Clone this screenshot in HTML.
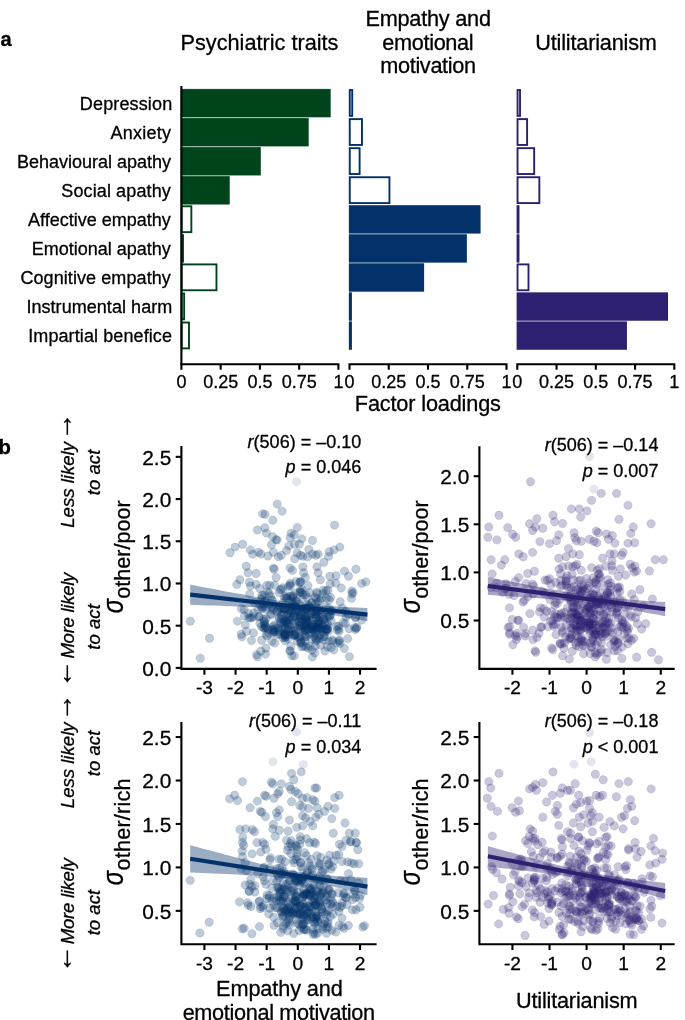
<!DOCTYPE html>
<html lang="en">
<head>
<meta charset="utf-8">
<title>Figure</title>
<style>
html,body{margin:0;padding:0;background:#fff;}
body{width:685px;height:1020px;overflow:hidden;}
svg{display:block;font-family:'Liberation Sans', Arial, Helvetica, sans-serif;fill:#000;}
text{stroke:#000;stroke-width:0.3px;stroke-linejoin:round;}
</style>
</head>
<body>
<svg width="685" height="1020" viewBox="0 0 685 1020">
<rect width="685" height="1020" fill="#fff"/>
<rect x="180.80" y="88.80" width="149.75" height="28.66" fill="#00441b" fill-opacity="0.5"/>
<rect x="180.80" y="89.15" width="149.75" height="27.95" fill="#00441b"/>
<rect x="180.80" y="117.86" width="127.77" height="28.66" fill="#00441b" fill-opacity="0.5"/>
<rect x="180.80" y="118.21" width="127.77" height="27.95" fill="#00441b"/>
<rect x="180.80" y="146.92" width="79.88" height="28.66" fill="#00441b" fill-opacity="0.5"/>
<rect x="180.80" y="147.27" width="79.88" height="27.95" fill="#00441b"/>
<rect x="180.80" y="175.98" width="48.80" height="28.66" fill="#00441b" fill-opacity="0.5"/>
<rect x="180.80" y="176.33" width="48.80" height="27.95" fill="#00441b"/>
<rect x="181.65" y="206.29" width="9.70" height="25.85" fill="#fff" stroke="#00441b" stroke-width="1.9"/>
<rect x="180.80" y="234.10" width="3.11" height="28.66" fill="#00441b" fill-opacity="0.5"/>
<rect x="180.80" y="234.45" width="3.11" height="27.95" fill="#00441b"/>
<rect x="181.65" y="264.41" width="34.82" height="25.85" fill="#fff" stroke="#00441b" stroke-width="1.9"/>
<rect x="181.65" y="293.47" width="2.48" height="25.85" fill="#fff" stroke="#00441b" stroke-width="1.9"/>
<rect x="181.65" y="322.53" width="7.34" height="25.85" fill="#fff" stroke="#00441b" stroke-width="1.9"/>
<path d="M181.40 369.70V364.30H338.40V369.70" fill="none" stroke="#000" stroke-width="2.1"/>
<line x1="220.65" y1="364.30" x2="220.65" y2="369.70" stroke="#000" stroke-width="2.1"/>
<line x1="259.90" y1="364.30" x2="259.90" y2="369.70" stroke="#000" stroke-width="2.1"/>
<line x1="299.15" y1="364.30" x2="299.15" y2="369.70" stroke="#000" stroke-width="2.1"/>
<text x="181.40" y="387.70" font-size="18" text-anchor="middle">0</text>
<text x="220.65" y="387.70" font-size="18" text-anchor="middle">0.25</text>
<text x="259.90" y="387.70" font-size="18" text-anchor="middle">0.5</text>
<text x="299.15" y="387.70" font-size="18" text-anchor="middle">0.75</text>
<text x="338.40" y="387.70" font-size="18" text-anchor="middle">1</text>
<rect x="349.75" y="90.05" width="2.48" height="25.85" fill="#fff" stroke="#03326a" stroke-width="1.9"/>
<rect x="349.75" y="119.11" width="12.21" height="25.85" fill="#fff" stroke="#03326a" stroke-width="1.9"/>
<rect x="349.75" y="148.17" width="9.86" height="25.85" fill="#fff" stroke="#03326a" stroke-width="1.9"/>
<rect x="349.75" y="177.23" width="39.69" height="25.85" fill="#fff" stroke="#03326a" stroke-width="1.9"/>
<rect x="348.90" y="205.04" width="131.54" height="28.66" fill="#03326a" fill-opacity="0.5"/>
<rect x="348.90" y="205.39" width="131.54" height="27.95" fill="#03326a"/>
<rect x="348.90" y="234.10" width="117.88" height="28.66" fill="#03326a" fill-opacity="0.5"/>
<rect x="348.90" y="234.45" width="117.88" height="27.95" fill="#03326a"/>
<rect x="348.90" y="263.16" width="75.17" height="28.66" fill="#03326a" fill-opacity="0.5"/>
<rect x="348.90" y="263.51" width="75.17" height="27.95" fill="#03326a"/>
<rect x="348.90" y="292.22" width="2.96" height="28.66" fill="#03326a" fill-opacity="0.5"/>
<rect x="348.90" y="292.57" width="2.96" height="27.95" fill="#03326a"/>
<rect x="348.90" y="321.28" width="2.96" height="28.66" fill="#03326a" fill-opacity="0.5"/>
<rect x="348.90" y="321.63" width="2.96" height="27.95" fill="#03326a"/>
<path d="M349.50 369.70V364.30H506.50V369.70" fill="none" stroke="#000" stroke-width="2.1"/>
<line x1="388.75" y1="364.30" x2="388.75" y2="369.70" stroke="#000" stroke-width="2.1"/>
<line x1="428.00" y1="364.30" x2="428.00" y2="369.70" stroke="#000" stroke-width="2.1"/>
<line x1="467.25" y1="364.30" x2="467.25" y2="369.70" stroke="#000" stroke-width="2.1"/>
<text x="349.50" y="387.70" font-size="18" text-anchor="middle">0</text>
<text x="388.75" y="387.70" font-size="18" text-anchor="middle">0.25</text>
<text x="428.00" y="387.70" font-size="18" text-anchor="middle">0.5</text>
<text x="467.25" y="387.70" font-size="18" text-anchor="middle">0.75</text>
<text x="506.50" y="387.70" font-size="18" text-anchor="middle">1</text>
<rect x="517.55" y="90.05" width="2.48" height="25.85" fill="#fff" stroke="#2e2070" stroke-width="1.9"/>
<rect x="517.55" y="119.11" width="9.54" height="25.85" fill="#fff" stroke="#2e2070" stroke-width="1.9"/>
<rect x="517.55" y="148.17" width="16.61" height="25.85" fill="#fff" stroke="#2e2070" stroke-width="1.9"/>
<rect x="517.55" y="177.23" width="21.79" height="25.85" fill="#fff" stroke="#2e2070" stroke-width="1.9"/>
<rect x="516.70" y="205.04" width="2.64" height="28.66" fill="#2e2070" fill-opacity="0.5"/>
<rect x="516.70" y="205.39" width="2.64" height="27.95" fill="#2e2070"/>
<rect x="516.70" y="234.10" width="2.64" height="28.66" fill="#2e2070" fill-opacity="0.5"/>
<rect x="516.70" y="234.45" width="2.64" height="27.95" fill="#2e2070"/>
<rect x="517.55" y="264.41" width="10.95" height="25.85" fill="#fff" stroke="#2e2070" stroke-width="1.9"/>
<rect x="516.70" y="292.22" width="151.32" height="28.66" fill="#2e2070" fill-opacity="0.5"/>
<rect x="516.70" y="292.57" width="151.32" height="27.95" fill="#2e2070"/>
<rect x="516.70" y="321.28" width="110.19" height="28.66" fill="#2e2070" fill-opacity="0.5"/>
<rect x="516.70" y="321.63" width="110.19" height="27.95" fill="#2e2070"/>
<path d="M517.30 369.70V364.30H674.30V369.70" fill="none" stroke="#000" stroke-width="2.1"/>
<line x1="556.55" y1="364.30" x2="556.55" y2="369.70" stroke="#000" stroke-width="2.1"/>
<line x1="595.80" y1="364.30" x2="595.80" y2="369.70" stroke="#000" stroke-width="2.1"/>
<line x1="635.05" y1="364.30" x2="635.05" y2="369.70" stroke="#000" stroke-width="2.1"/>
<text x="517.30" y="387.70" font-size="18" text-anchor="middle">0</text>
<text x="556.55" y="387.70" font-size="18" text-anchor="middle">0.25</text>
<text x="595.80" y="387.70" font-size="18" text-anchor="middle">0.5</text>
<text x="635.05" y="387.70" font-size="18" text-anchor="middle">0.75</text>
<text x="674.30" y="387.70" font-size="18" text-anchor="middle">1</text>
<line x1="181.40" y1="85.9" x2="181.40" y2="365.35" stroke="#000" stroke-width="2.1"/>
<text x="172.30" y="110.30" font-size="18" text-anchor="end" letter-spacing="0.14">Depression</text>
<text x="171.20" y="139.27" font-size="18" text-anchor="end" letter-spacing="0.23">Anxiety</text>
<text x="171.00" y="168.24" font-size="18" text-anchor="end">Behavioural apathy</text>
<text x="170.90" y="197.21" font-size="18" text-anchor="end" letter-spacing="0.12">Social apathy</text>
<text x="170.80" y="226.18" font-size="18" text-anchor="end">Affective empathy</text>
<text x="170.80" y="255.15" font-size="18" text-anchor="end">Emotional apathy</text>
<text x="170.90" y="284.12" font-size="18" text-anchor="end" letter-spacing="0.08">Cognitive empathy</text>
<text x="172.30" y="313.09" font-size="18" text-anchor="end" letter-spacing="0.05">Instrumental harm</text>
<text x="172.10" y="342.06" font-size="18" text-anchor="end" letter-spacing="0.1">Impartial benefice</text>
<text x="259.50" y="50.20" font-size="21.7" text-anchor="middle">Psychiatric traits</text>
<text x="428.10" y="26.20" font-size="21.7" text-anchor="middle" letter-spacing="-0.22">Empathy and</text>
<text x="427.80" y="50.20" font-size="21.7" text-anchor="middle" letter-spacing="-0.34">emotional</text>
<text x="428.00" y="73.10" font-size="21.7" text-anchor="middle" letter-spacing="-0.33">motivation</text>
<text x="596.00" y="50.00" font-size="21.7" text-anchor="middle" letter-spacing="-0.19">Utilitarianism</text>
<text x="427.80" y="411.20" font-size="21.7" text-anchor="middle" letter-spacing="-0.15">Factor loadings</text>
<text x="0.40" y="45.60" font-size="20" text-anchor="start" font-weight="bold" stroke-width="0.1">a</text>
<text x="-1.60" y="453.60" font-size="20.3" text-anchor="start" font-weight="bold" stroke-width="0.1">b</text>
<g fill="#03326a" fill-opacity="0.255" stroke="#03326a" stroke-opacity="0.15" stroke-width="0.8">
<circle cx="325.5" cy="629.1" r="4.2"/>
<circle cx="328.1" cy="631.6" r="4.2"/>
<circle cx="318.0" cy="628.9" r="4.2"/>
<circle cx="303.5" cy="630.8" r="4.2"/>
<circle cx="294.9" cy="606.4" r="4.2"/>
<circle cx="301.2" cy="612.2" r="4.2"/>
<circle cx="298.6" cy="621.6" r="4.2"/>
<circle cx="340.1" cy="643.5" r="4.2"/>
<circle cx="241.4" cy="608.8" r="4.2"/>
<circle cx="306.6" cy="624.9" r="4.2"/>
<circle cx="284.1" cy="613.1" r="4.2"/>
<circle cx="320.0" cy="634.8" r="4.2"/>
<circle cx="248.9" cy="617.6" r="4.2"/>
<circle cx="262.0" cy="597.4" r="4.2"/>
<circle cx="270.7" cy="614.1" r="4.2"/>
<circle cx="301.1" cy="606.5" r="4.2"/>
<circle cx="327.6" cy="629.1" r="4.2"/>
<circle cx="315.4" cy="614.3" r="4.2"/>
<circle cx="284.8" cy="634.6" r="4.2"/>
<circle cx="261.3" cy="607.3" r="4.2"/>
<circle cx="307.6" cy="604.8" r="4.2"/>
<circle cx="306.2" cy="608.1" r="4.2"/>
<circle cx="323.8" cy="618.9" r="4.2"/>
<circle cx="323.3" cy="627.4" r="4.2"/>
<circle cx="286.2" cy="633.2" r="4.2"/>
<circle cx="249.4" cy="582.2" r="4.2"/>
<circle cx="314.6" cy="611.7" r="4.2"/>
<circle cx="313.8" cy="630.4" r="4.2"/>
<circle cx="307.4" cy="620.8" r="4.2"/>
<circle cx="301.0" cy="581.6" r="4.2"/>
<circle cx="279.8" cy="634.2" r="4.2"/>
<circle cx="320.7" cy="645.4" r="4.2"/>
<circle cx="296.5" cy="601.0" r="4.2"/>
<circle cx="294.1" cy="635.5" r="4.2"/>
<circle cx="303.2" cy="609.2" r="4.2"/>
<circle cx="268.0" cy="629.1" r="4.2"/>
<circle cx="281.7" cy="629.1" r="4.2"/>
<circle cx="284.3" cy="608.9" r="4.2"/>
<circle cx="287.4" cy="623.9" r="4.2"/>
<circle cx="273.8" cy="608.5" r="4.2"/>
<circle cx="300.2" cy="589.7" r="4.2"/>
<circle cx="345.2" cy="623.5" r="4.2"/>
<circle cx="315.9" cy="610.4" r="4.2"/>
<circle cx="313.2" cy="626.8" r="4.2"/>
<circle cx="325.8" cy="606.9" r="4.2"/>
<circle cx="272.1" cy="606.4" r="4.2"/>
<circle cx="263.6" cy="619.0" r="4.2"/>
<circle cx="300.0" cy="637.1" r="4.2"/>
<circle cx="280.5" cy="622.3" r="4.2"/>
<circle cx="281.6" cy="614.6" r="4.2"/>
<circle cx="303.4" cy="619.6" r="4.2"/>
<circle cx="274.6" cy="632.1" r="4.2"/>
<circle cx="263.6" cy="628.1" r="4.2"/>
<circle cx="311.4" cy="625.5" r="4.2"/>
<circle cx="264.7" cy="595.1" r="4.2"/>
<circle cx="251.8" cy="617.9" r="4.2"/>
<circle cx="323.8" cy="639.7" r="4.2"/>
<circle cx="305.2" cy="631.0" r="4.2"/>
<circle cx="311.6" cy="603.1" r="4.2"/>
<circle cx="260.8" cy="651.2" r="4.2"/>
<circle cx="290.8" cy="628.5" r="4.2"/>
<circle cx="292.6" cy="604.0" r="4.2"/>
<circle cx="263.7" cy="604.2" r="4.2"/>
<circle cx="289.7" cy="619.9" r="4.2"/>
<circle cx="315.8" cy="617.6" r="4.2"/>
<circle cx="291.7" cy="611.3" r="4.2"/>
<circle cx="311.8" cy="602.4" r="4.2"/>
<circle cx="311.1" cy="628.9" r="4.2"/>
<circle cx="237.4" cy="621.1" r="4.2"/>
<circle cx="279.0" cy="631.7" r="4.2"/>
<circle cx="283.9" cy="621.4" r="4.2"/>
<circle cx="297.0" cy="626.5" r="4.2"/>
<circle cx="302.0" cy="625.8" r="4.2"/>
<circle cx="314.5" cy="614.8" r="4.2"/>
<circle cx="302.4" cy="628.7" r="4.2"/>
<circle cx="288.3" cy="630.3" r="4.2"/>
<circle cx="285.5" cy="620.7" r="4.2"/>
<circle cx="300.9" cy="618.6" r="4.2"/>
<circle cx="271.6" cy="600.0" r="4.2"/>
<circle cx="291.1" cy="607.6" r="4.2"/>
<circle cx="302.3" cy="589.9" r="4.2"/>
<circle cx="317.5" cy="615.5" r="4.2"/>
<circle cx="315.1" cy="597.1" r="4.2"/>
<circle cx="306.4" cy="610.2" r="4.2"/>
<circle cx="293.0" cy="595.6" r="4.2"/>
<circle cx="304.5" cy="635.4" r="4.2"/>
<circle cx="307.5" cy="608.4" r="4.2"/>
<circle cx="355.3" cy="617.7" r="4.2"/>
<circle cx="295.1" cy="606.5" r="4.2"/>
<circle cx="305.3" cy="617.0" r="4.2"/>
<circle cx="300.0" cy="626.2" r="4.2"/>
<circle cx="290.7" cy="646.3" r="4.2"/>
<circle cx="289.3" cy="613.9" r="4.2"/>
<circle cx="279.2" cy="618.7" r="4.2"/>
<circle cx="343.2" cy="622.6" r="4.2"/>
<circle cx="287.6" cy="613.4" r="4.2"/>
<circle cx="267.6" cy="591.6" r="4.2"/>
<circle cx="283.9" cy="636.1" r="4.2"/>
<circle cx="300.5" cy="629.1" r="4.2"/>
<circle cx="319.8" cy="621.3" r="4.2"/>
<circle cx="330.2" cy="583.9" r="4.2"/>
<circle cx="265.9" cy="627.5" r="4.2"/>
<circle cx="294.6" cy="624.3" r="4.2"/>
<circle cx="302.3" cy="598.8" r="4.2"/>
<circle cx="318.0" cy="623.6" r="4.2"/>
<circle cx="326.2" cy="630.8" r="4.2"/>
<circle cx="289.6" cy="634.6" r="4.2"/>
<circle cx="317.7" cy="608.7" r="4.2"/>
<circle cx="320.1" cy="610.6" r="4.2"/>
<circle cx="301.2" cy="642.7" r="4.2"/>
<circle cx="282.3" cy="627.0" r="4.2"/>
<circle cx="365.8" cy="581.9" r="4.2"/>
<circle cx="341.3" cy="588.0" r="4.2"/>
<circle cx="316.0" cy="641.1" r="4.2"/>
<circle cx="312.2" cy="624.9" r="4.2"/>
<circle cx="300.0" cy="638.8" r="4.2"/>
<circle cx="294.3" cy="616.8" r="4.2"/>
<circle cx="318.0" cy="601.7" r="4.2"/>
<circle cx="323.9" cy="619.6" r="4.2"/>
<circle cx="307.3" cy="597.4" r="4.2"/>
<circle cx="279.7" cy="609.5" r="4.2"/>
<circle cx="361.6" cy="583.6" r="4.2"/>
<circle cx="319.0" cy="629.8" r="4.2"/>
<circle cx="262.9" cy="607.1" r="4.2"/>
<circle cx="332.6" cy="640.0" r="4.2"/>
<circle cx="328.0" cy="625.4" r="4.2"/>
<circle cx="301.8" cy="614.7" r="4.2"/>
<circle cx="308.3" cy="616.3" r="4.2"/>
<circle cx="281.0" cy="623.4" r="4.2"/>
<circle cx="345.8" cy="611.4" r="4.2"/>
<circle cx="306.0" cy="618.8" r="4.2"/>
<circle cx="318.2" cy="622.9" r="4.2"/>
<circle cx="265.0" cy="601.2" r="4.2"/>
<circle cx="333.8" cy="649.9" r="4.2"/>
<circle cx="309.1" cy="615.0" r="4.2"/>
<circle cx="291.3" cy="619.8" r="4.2"/>
<circle cx="289.7" cy="617.2" r="4.2"/>
<circle cx="356.9" cy="627.2" r="4.2"/>
<circle cx="354.8" cy="627.5" r="4.2"/>
<circle cx="322.2" cy="611.2" r="4.2"/>
<circle cx="300.7" cy="613.8" r="4.2"/>
<circle cx="304.5" cy="628.7" r="4.2"/>
<circle cx="302.8" cy="594.6" r="4.2"/>
<circle cx="319.3" cy="625.2" r="4.2"/>
<circle cx="313.0" cy="611.1" r="4.2"/>
<circle cx="311.7" cy="639.0" r="4.2"/>
<circle cx="331.0" cy="647.5" r="4.2"/>
<circle cx="274.6" cy="585.3" r="4.2"/>
<circle cx="321.9" cy="628.4" r="4.2"/>
<circle cx="288.2" cy="629.4" r="4.2"/>
<circle cx="286.2" cy="622.9" r="4.2"/>
<circle cx="257.5" cy="656.7" r="4.2"/>
<circle cx="284.7" cy="598.4" r="4.2"/>
<circle cx="272.5" cy="629.7" r="4.2"/>
<circle cx="308.0" cy="585.6" r="4.2"/>
<circle cx="351.9" cy="590.9" r="4.2"/>
<circle cx="295.0" cy="634.8" r="4.2"/>
<circle cx="323.0" cy="593.7" r="4.2"/>
<circle cx="301.7" cy="646.7" r="4.2"/>
<circle cx="293.2" cy="630.6" r="4.2"/>
<circle cx="261.4" cy="626.5" r="4.2"/>
<circle cx="337.1" cy="642.9" r="4.2"/>
<circle cx="330.5" cy="597.3" r="4.2"/>
<circle cx="297.3" cy="641.2" r="4.2"/>
<circle cx="266.2" cy="618.7" r="4.2"/>
<circle cx="265.0" cy="601.1" r="4.2"/>
<circle cx="277.6" cy="634.6" r="4.2"/>
<circle cx="316.6" cy="627.4" r="4.2"/>
<circle cx="307.1" cy="609.3" r="4.2"/>
<circle cx="332.4" cy="641.3" r="4.2"/>
<circle cx="305.4" cy="622.1" r="4.2"/>
<circle cx="355.4" cy="629.5" r="4.2"/>
<circle cx="312.4" cy="657.1" r="4.2"/>
<circle cx="327.3" cy="623.7" r="4.2"/>
<circle cx="309.6" cy="634.2" r="4.2"/>
<circle cx="329.7" cy="615.7" r="4.2"/>
<circle cx="326.4" cy="598.2" r="4.2"/>
<circle cx="285.0" cy="621.5" r="4.2"/>
<circle cx="288.9" cy="609.8" r="4.2"/>
<circle cx="254.0" cy="602.5" r="4.2"/>
<circle cx="339.1" cy="631.4" r="4.2"/>
<circle cx="273.5" cy="630.5" r="4.2"/>
<circle cx="312.0" cy="627.2" r="4.2"/>
<circle cx="299.3" cy="611.6" r="4.2"/>
<circle cx="294.3" cy="655.9" r="4.2"/>
<circle cx="300.3" cy="582.0" r="4.2"/>
<circle cx="327.5" cy="616.4" r="4.2"/>
<circle cx="322.3" cy="631.0" r="4.2"/>
<circle cx="316.2" cy="618.0" r="4.2"/>
<circle cx="273.8" cy="626.2" r="4.2"/>
<circle cx="349.4" cy="656.6" r="4.2"/>
<circle cx="289.8" cy="651.0" r="4.2"/>
<circle cx="286.0" cy="636.5" r="4.2"/>
<circle cx="285.2" cy="608.9" r="4.2"/>
<circle cx="304.3" cy="628.1" r="4.2"/>
<circle cx="300.9" cy="641.2" r="4.2"/>
<circle cx="282.9" cy="637.7" r="4.2"/>
<circle cx="281.4" cy="589.1" r="4.2"/>
<circle cx="296.1" cy="611.1" r="4.2"/>
<circle cx="285.2" cy="637.7" r="4.2"/>
<circle cx="290.3" cy="583.1" r="4.2"/>
<circle cx="356.3" cy="628.3" r="4.2"/>
<circle cx="308.9" cy="606.8" r="4.2"/>
<circle cx="273.0" cy="629.3" r="4.2"/>
<circle cx="316.6" cy="592.1" r="4.2"/>
<circle cx="307.9" cy="648.1" r="4.2"/>
<circle cx="285.2" cy="634.3" r="4.2"/>
<circle cx="266.9" cy="636.0" r="4.2"/>
<circle cx="330.3" cy="615.0" r="4.2"/>
<circle cx="290.6" cy="595.9" r="4.2"/>
<circle cx="282.9" cy="603.3" r="4.2"/>
<circle cx="283.5" cy="623.6" r="4.2"/>
<circle cx="265.9" cy="648.2" r="4.2"/>
<circle cx="308.5" cy="605.5" r="4.2"/>
<circle cx="264.3" cy="621.0" r="4.2"/>
<circle cx="316.5" cy="639.9" r="4.2"/>
<circle cx="288.0" cy="638.5" r="4.2"/>
<circle cx="272.3" cy="600.3" r="4.2"/>
<circle cx="319.7" cy="638.6" r="4.2"/>
<circle cx="299.2" cy="625.1" r="4.2"/>
<circle cx="264.3" cy="624.6" r="4.2"/>
<circle cx="265.7" cy="627.3" r="4.2"/>
<circle cx="294.5" cy="602.4" r="4.2"/>
<circle cx="266.4" cy="634.4" r="4.2"/>
<circle cx="336.7" cy="626.5" r="4.2"/>
<circle cx="288.3" cy="586.5" r="4.2"/>
<circle cx="337.2" cy="630.1" r="4.2"/>
<circle cx="288.1" cy="622.3" r="4.2"/>
<circle cx="304.2" cy="623.9" r="4.2"/>
<circle cx="286.5" cy="621.4" r="4.2"/>
<circle cx="273.9" cy="631.6" r="4.2"/>
<circle cx="351.4" cy="598.4" r="4.2"/>
<circle cx="328.5" cy="640.9" r="4.2"/>
<circle cx="253.7" cy="613.0" r="4.2"/>
<circle cx="346.0" cy="616.9" r="4.2"/>
<circle cx="279.0" cy="592.6" r="4.2"/>
<circle cx="331.1" cy="620.8" r="4.2"/>
<circle cx="262.2" cy="608.7" r="4.2"/>
<circle cx="282.9" cy="587.7" r="4.2"/>
<circle cx="295.8" cy="600.7" r="4.2"/>
<circle cx="327.4" cy="629.6" r="4.2"/>
<circle cx="285.1" cy="628.6" r="4.2"/>
<circle cx="281.3" cy="618.9" r="4.2"/>
<circle cx="309.5" cy="620.0" r="4.2"/>
<circle cx="271.0" cy="614.9" r="4.2"/>
<circle cx="293.8" cy="616.1" r="4.2"/>
<circle cx="280.3" cy="607.6" r="4.2"/>
<circle cx="298.4" cy="615.8" r="4.2"/>
<circle cx="306.7" cy="623.0" r="4.2"/>
<circle cx="259.9" cy="623.3" r="4.2"/>
<circle cx="286.8" cy="615.3" r="4.2"/>
<circle cx="261.7" cy="640.3" r="4.2"/>
<circle cx="315.8" cy="632.9" r="4.2"/>
<circle cx="335.7" cy="583.1" r="4.2"/>
<circle cx="266.1" cy="609.2" r="4.2"/>
<circle cx="327.2" cy="646.8" r="4.2"/>
<circle cx="308.9" cy="622.2" r="4.2"/>
<circle cx="348.2" cy="614.7" r="4.2"/>
<circle cx="314.7" cy="637.0" r="4.2"/>
<circle cx="287.6" cy="629.4" r="4.2"/>
<circle cx="316.0" cy="603.4" r="4.2"/>
<circle cx="303.4" cy="646.2" r="4.2"/>
<circle cx="259.7" cy="588.5" r="4.2"/>
<circle cx="307.0" cy="621.4" r="4.2"/>
<circle cx="274.2" cy="624.9" r="4.2"/>
<circle cx="258.0" cy="609.6" r="4.2"/>
<circle cx="300.5" cy="617.9" r="4.2"/>
<circle cx="339.3" cy="640.2" r="4.2"/>
<circle cx="281.6" cy="608.5" r="4.2"/>
<circle cx="338.8" cy="629.0" r="4.2"/>
<circle cx="266.8" cy="585.5" r="4.2"/>
<circle cx="272.8" cy="632.6" r="4.2"/>
<circle cx="244.1" cy="609.8" r="4.2"/>
<circle cx="297.7" cy="636.8" r="4.2"/>
<circle cx="355.5" cy="617.3" r="4.2"/>
<circle cx="295.7" cy="634.3" r="4.2"/>
<circle cx="299.6" cy="582.4" r="4.2"/>
<circle cx="304.3" cy="608.5" r="4.2"/>
<circle cx="259.5" cy="604.4" r="4.2"/>
<circle cx="300.6" cy="643.1" r="4.2"/>
<circle cx="277.7" cy="610.4" r="4.2"/>
<circle cx="286.7" cy="595.7" r="4.2"/>
<circle cx="253.4" cy="616.6" r="4.2"/>
<circle cx="324.6" cy="632.2" r="4.2"/>
<circle cx="318.7" cy="637.7" r="4.2"/>
<circle cx="310.4" cy="607.9" r="4.2"/>
<circle cx="316.2" cy="623.9" r="4.2"/>
<circle cx="286.1" cy="634.7" r="4.2"/>
<circle cx="275.2" cy="628.1" r="4.2"/>
<circle cx="326.0" cy="590.8" r="4.2"/>
<circle cx="273.2" cy="610.2" r="4.2"/>
<circle cx="264.4" cy="628.2" r="4.2"/>
<circle cx="269.0" cy="633.2" r="4.2"/>
<circle cx="320.1" cy="628.3" r="4.2"/>
<circle cx="262.0" cy="595.3" r="4.2"/>
<circle cx="327.3" cy="628.2" r="4.2"/>
<circle cx="329.6" cy="616.7" r="4.2"/>
<circle cx="317.9" cy="612.4" r="4.2"/>
<circle cx="288.9" cy="609.6" r="4.2"/>
<circle cx="297.6" cy="609.0" r="4.2"/>
<circle cx="306.0" cy="636.6" r="4.2"/>
<circle cx="353.1" cy="592.5" r="4.2"/>
<circle cx="321.5" cy="598.2" r="4.2"/>
<circle cx="248.3" cy="613.5" r="4.2"/>
<circle cx="309.7" cy="592.7" r="4.2"/>
<circle cx="296.6" cy="618.0" r="4.2"/>
<circle cx="292.0" cy="601.7" r="4.2"/>
<circle cx="246.5" cy="631.3" r="4.2"/>
<circle cx="328.8" cy="607.6" r="4.2"/>
<circle cx="361.7" cy="620.0" r="4.2"/>
<circle cx="315.3" cy="645.9" r="4.2"/>
<circle cx="294.6" cy="613.1" r="4.2"/>
<circle cx="312.0" cy="632.4" r="4.2"/>
<circle cx="329.3" cy="599.6" r="4.2"/>
<circle cx="269.3" cy="593.5" r="4.2"/>
<circle cx="318.2" cy="626.8" r="4.2"/>
<circle cx="253.4" cy="632.9" r="4.2"/>
<circle cx="305.9" cy="646.5" r="4.2"/>
<circle cx="315.9" cy="638.5" r="4.2"/>
<circle cx="285.1" cy="640.6" r="4.2"/>
<circle cx="296.1" cy="581.5" r="4.2"/>
<circle cx="320.0" cy="600.8" r="4.2"/>
<circle cx="349.0" cy="628.8" r="4.2"/>
<circle cx="283.7" cy="608.7" r="4.2"/>
<circle cx="342.4" cy="608.2" r="4.2"/>
<circle cx="271.2" cy="607.2" r="4.2"/>
<circle cx="292.6" cy="596.8" r="4.2"/>
<circle cx="296.6" cy="608.7" r="4.2"/>
<circle cx="282.4" cy="608.2" r="4.2"/>
<circle cx="322.6" cy="616.5" r="4.2"/>
<circle cx="271.9" cy="641.3" r="4.2"/>
<circle cx="294.9" cy="626.4" r="4.2"/>
<circle cx="327.8" cy="612.1" r="4.2"/>
<circle cx="293.4" cy="597.9" r="4.2"/>
<circle cx="304.6" cy="637.4" r="4.2"/>
<circle cx="311.8" cy="633.4" r="4.2"/>
<circle cx="302.5" cy="609.4" r="4.2"/>
<circle cx="305.3" cy="630.2" r="4.2"/>
<circle cx="300.4" cy="592.0" r="4.2"/>
<circle cx="283.9" cy="632.8" r="4.2"/>
<circle cx="326.6" cy="628.9" r="4.2"/>
<circle cx="294.9" cy="593.1" r="4.2"/>
<circle cx="308.2" cy="629.4" r="4.2"/>
<circle cx="306.3" cy="626.4" r="4.2"/>
<circle cx="278.8" cy="617.4" r="4.2"/>
<circle cx="245.2" cy="624.9" r="4.2"/>
<circle cx="290.0" cy="584.9" r="4.2"/>
<circle cx="316.3" cy="598.5" r="4.2"/>
<circle cx="339.2" cy="641.2" r="4.2"/>
<circle cx="274.7" cy="643.0" r="4.2"/>
<circle cx="285.3" cy="635.2" r="4.2"/>
<circle cx="288.6" cy="619.8" r="4.2"/>
<circle cx="265.6" cy="654.1" r="4.2"/>
<circle cx="290.5" cy="611.6" r="4.2"/>
<circle cx="306.2" cy="619.5" r="4.2"/>
<circle cx="347.7" cy="638.6" r="4.2"/>
<circle cx="249.7" cy="594.1" r="4.2"/>
<circle cx="289.6" cy="600.8" r="4.2"/>
<circle cx="256.1" cy="584.4" r="4.2"/>
<circle cx="290.6" cy="606.7" r="4.2"/>
<circle cx="293.1" cy="608.6" r="4.2"/>
<circle cx="318.7" cy="623.2" r="4.2"/>
<circle cx="290.6" cy="631.3" r="4.2"/>
<circle cx="264.6" cy="622.5" r="4.2"/>
<circle cx="317.0" cy="630.7" r="4.2"/>
<circle cx="316.1" cy="607.1" r="4.2"/>
<circle cx="312.6" cy="628.9" r="4.2"/>
<circle cx="352.0" cy="594.0" r="4.2"/>
<circle cx="280.4" cy="589.7" r="4.2"/>
<circle cx="317.1" cy="593.8" r="4.2"/>
<circle cx="269.7" cy="585.1" r="4.2"/>
<circle cx="306.8" cy="616.4" r="4.2"/>
<circle cx="306.9" cy="617.0" r="4.2"/>
<circle cx="278.2" cy="628.0" r="4.2"/>
<circle cx="289.0" cy="624.2" r="4.2"/>
<circle cx="314.8" cy="652.8" r="4.2"/>
<circle cx="323.4" cy="619.5" r="4.2"/>
<circle cx="265.5" cy="625.4" r="4.2"/>
<circle cx="294.6" cy="635.5" r="4.2"/>
<circle cx="321.9" cy="624.7" r="4.2"/>
<circle cx="300.0" cy="617.3" r="4.2"/>
<circle cx="250.0" cy="617.9" r="4.2"/>
<circle cx="322.2" cy="614.3" r="4.2"/>
<circle cx="284.8" cy="596.5" r="4.2"/>
<circle cx="323.6" cy="636.5" r="4.2"/>
<circle cx="305.7" cy="594.6" r="4.2"/>
<circle cx="324.5" cy="636.8" r="4.2"/>
<circle cx="325.0" cy="651.1" r="4.2"/>
<circle cx="324.5" cy="622.7" r="4.2"/>
<circle cx="313.2" cy="629.2" r="4.2"/>
<circle cx="290.4" cy="650.9" r="4.2"/>
<circle cx="299.3" cy="604.3" r="4.2"/>
<circle cx="344.3" cy="648.5" r="4.2"/>
<circle cx="256.5" cy="654.8" r="4.2"/>
<circle cx="301.2" cy="622.1" r="4.2"/>
<circle cx="313.1" cy="627.3" r="4.2"/>
<circle cx="259.3" cy="616.6" r="4.2"/>
<circle cx="316.3" cy="617.7" r="4.2"/>
<circle cx="331.9" cy="610.8" r="4.2"/>
<circle cx="261.4" cy="599.4" r="4.2"/>
<circle cx="338.5" cy="626.1" r="4.2"/>
<circle cx="307.4" cy="607.4" r="4.2"/>
<circle cx="295.7" cy="633.5" r="4.2"/>
<circle cx="331.0" cy="611.0" r="4.2"/>
<circle cx="276.8" cy="611.6" r="4.2"/>
<circle cx="327.9" cy="590.2" r="4.2"/>
<circle cx="311.2" cy="613.4" r="4.2"/>
<circle cx="304.7" cy="640.7" r="4.2"/>
<circle cx="316.1" cy="614.0" r="4.2"/>
<circle cx="318.1" cy="627.5" r="4.2"/>
<circle cx="279.3" cy="630.4" r="4.2"/>
<circle cx="293.5" cy="634.1" r="4.2"/>
<circle cx="301.6" cy="592.7" r="4.2"/>
<circle cx="241.9" cy="636.8" r="4.2"/>
<circle cx="293.8" cy="616.0" r="4.2"/>
<circle cx="309.4" cy="646.1" r="4.2"/>
<circle cx="251.5" cy="640.6" r="4.2"/>
<circle cx="270.5" cy="596.3" r="4.2"/>
<circle cx="299.8" cy="592.1" r="4.2"/>
<circle cx="291.8" cy="655.7" r="4.2"/>
<circle cx="310.9" cy="624.1" r="4.2"/>
<circle cx="241.2" cy="634.3" r="4.2"/>
<circle cx="281.6" cy="615.4" r="4.2"/>
<circle cx="287.0" cy="598.0" r="4.2"/>
<circle cx="340.2" cy="601.8" r="4.2"/>
<circle cx="299.3" cy="621.8" r="4.2"/>
<circle cx="307.6" cy="628.7" r="4.2"/>
<circle cx="286.8" cy="598.3" r="4.2"/>
<circle cx="318.4" cy="620.8" r="4.2"/>
<circle cx="312.1" cy="650.0" r="4.2"/>
<circle cx="323.3" cy="590.1" r="4.2"/>
<circle cx="290.3" cy="586.1" r="4.2"/>
<circle cx="258.7" cy="616.8" r="4.2"/>
<circle cx="265.8" cy="607.1" r="4.2"/>
<circle cx="244.5" cy="616.0" r="4.2"/>
<circle cx="277.2" cy="504.1" r="4.2"/>
<circle cx="282.1" cy="511.1" r="4.2"/>
<circle cx="262.7" cy="513.9" r="4.2"/>
<circle cx="265.1" cy="514.4" r="4.2"/>
<circle cx="272.8" cy="520.2" r="4.2"/>
<circle cx="334.5" cy="525.1" r="4.2"/>
<circle cx="257.4" cy="530.0" r="4.2"/>
<circle cx="264.8" cy="527.7" r="4.2"/>
<circle cx="266.3" cy="533.1" r="4.2"/>
<circle cx="297.3" cy="527.5" r="4.2"/>
<circle cx="291.2" cy="533.1" r="4.2"/>
<circle cx="294.3" cy="534.9" r="4.2"/>
<circle cx="272.6" cy="536.6" r="4.2"/>
<circle cx="276.1" cy="539.6" r="4.2"/>
<circle cx="277.2" cy="540.1" r="4.2"/>
<circle cx="271.4" cy="544.7" r="4.2"/>
<circle cx="290.1" cy="537.7" r="4.2"/>
<circle cx="294.7" cy="544.3" r="4.2"/>
<circle cx="299.4" cy="544.3" r="4.2"/>
<circle cx="301.8" cy="538.9" r="4.2"/>
<circle cx="288.9" cy="545.9" r="4.2"/>
<circle cx="312.5" cy="540.5" r="4.2"/>
<circle cx="242.7" cy="544.3" r="4.2"/>
<circle cx="235.2" cy="547.1" r="4.2"/>
<circle cx="230.0" cy="552.7" r="4.2"/>
<circle cx="250.4" cy="549.9" r="4.2"/>
<circle cx="252.7" cy="554.1" r="4.2"/>
<circle cx="258.5" cy="552.2" r="4.2"/>
<circle cx="260.9" cy="554.1" r="4.2"/>
<circle cx="267.9" cy="556.0" r="4.2"/>
<circle cx="273.3" cy="552.2" r="4.2"/>
<circle cx="278.4" cy="556.9" r="4.2"/>
<circle cx="281.2" cy="555.3" r="4.2"/>
<circle cx="286.6" cy="550.6" r="4.2"/>
<circle cx="297.1" cy="552.9" r="4.2"/>
<circle cx="300.6" cy="555.3" r="4.2"/>
<circle cx="302.9" cy="556.4" r="4.2"/>
<circle cx="294.7" cy="558.8" r="4.2"/>
<circle cx="307.6" cy="556.9" r="4.2"/>
<circle cx="308.8" cy="549.4" r="4.2"/>
<circle cx="312.3" cy="554.1" r="4.2"/>
<circle cx="315.8" cy="555.3" r="4.2"/>
<circle cx="318.1" cy="554.1" r="4.2"/>
<circle cx="339.8" cy="547.1" r="4.2"/>
<circle cx="334.0" cy="549.9" r="4.2"/>
<circle cx="329.3" cy="551.8" r="4.2"/>
<circle cx="328.6" cy="556.4" r="4.2"/>
<circle cx="323.9" cy="562.3" r="4.2"/>
<circle cx="246.2" cy="566.2" r="4.2"/>
<circle cx="248.0" cy="572.8" r="4.2"/>
<circle cx="256.2" cy="573.5" r="4.2"/>
<circle cx="239.9" cy="579.8" r="4.2"/>
<circle cx="236.8" cy="584.5" r="4.2"/>
<circle cx="250.4" cy="586.1" r="4.2"/>
<circle cx="355.9" cy="569.3" r="4.2"/>
<circle cx="344.5" cy="571.1" r="4.2"/>
<circle cx="348.5" cy="576.3" r="4.2"/>
<circle cx="336.1" cy="575.8" r="4.2"/>
<circle cx="329.8" cy="576.3" r="4.2"/>
<circle cx="273.3" cy="568.1" r="4.2"/>
<circle cx="274.2" cy="569.3" r="4.2"/>
<circle cx="276.1" cy="577.5" r="4.2"/>
<circle cx="290.1" cy="568.1" r="4.2"/>
<circle cx="292.4" cy="570.4" r="4.2"/>
<circle cx="302.9" cy="566.9" r="4.2"/>
<circle cx="303.6" cy="572.8" r="4.2"/>
<circle cx="305.3" cy="577.5" r="4.2"/>
<circle cx="316.9" cy="566.9" r="4.2"/>
<circle cx="318.1" cy="572.8" r="4.2"/>
<circle cx="320.4" cy="579.8" r="4.2"/>
<circle cx="190.3" cy="621.2" r="4.2"/>
<circle cx="209.5" cy="638.2" r="4.2"/>
<circle cx="200.3" cy="658.2" r="4.2"/>
</g>
<g fill="#03326a" fill-opacity="0.12">
<circle cx="296.6" cy="481.7" r="4.45"/>
</g>
<path d="M190.2 584.6 L196.1 585.7 L202.0 586.9 L207.9 588.0 L213.8 589.1 L219.7 590.2 L225.6 591.4 L231.5 592.5 L237.5 593.5 L243.4 594.6 L249.3 595.7 L255.2 596.7 L261.1 597.8 L267.0 598.8 L272.9 599.7 L278.8 600.7 L284.7 601.5 L290.6 602.4 L296.5 603.1 L302.4 603.8 L308.3 604.4 L314.2 604.9 L320.1 605.4 L326.1 605.8 L332.0 606.2 L337.9 606.6 L343.8 606.9 L349.7 607.2 L355.6 607.4 L361.5 607.7 L367.4 607.9 L367.4 621.3 L361.5 620.2 L355.6 619.1 L349.7 618.1 L343.8 617.0 L337.9 616.0 L332.0 615.0 L326.1 614.1 L320.1 613.2 L314.2 612.3 L308.3 611.5 L302.4 610.8 L296.5 610.2 L290.6 609.6 L284.7 609.1 L278.8 608.6 L272.9 608.2 L267.0 607.9 L261.1 607.5 L255.2 607.2 L249.3 607.0 L243.4 606.7 L237.5 606.5 L231.5 606.2 L225.6 606.0 L219.7 605.8 L213.8 605.6 L207.9 605.4 L202.0 605.2 L196.1 605.0 L190.2 604.8Z" fill="#03326a" fill-opacity="0.4"/>
<line x1="190.2" y1="594.7" x2="367.4" y2="614.6" stroke="#03326a" stroke-width="4.2"/>
<path d="M181.40 446.00V668.90H376.60" fill="none" stroke="#000" stroke-width="2.1"/>
<line x1="204.41" y1="668.90" x2="204.41" y2="674.70" stroke="#000" stroke-width="2.1"/>
<text x="204.41" y="693.80" font-size="19.2" text-anchor="middle">-3</text>
<line x1="235.54" y1="668.90" x2="235.54" y2="674.70" stroke="#000" stroke-width="2.1"/>
<text x="235.54" y="693.80" font-size="19.2" text-anchor="middle">-2</text>
<line x1="266.67" y1="668.90" x2="266.67" y2="674.70" stroke="#000" stroke-width="2.1"/>
<text x="266.67" y="693.80" font-size="19.2" text-anchor="middle">-1</text>
<line x1="297.80" y1="668.90" x2="297.80" y2="674.70" stroke="#000" stroke-width="2.1"/>
<text x="297.80" y="693.80" font-size="19.2" text-anchor="middle">0</text>
<line x1="328.93" y1="668.90" x2="328.93" y2="674.70" stroke="#000" stroke-width="2.1"/>
<text x="328.93" y="693.80" font-size="19.2" text-anchor="middle">1</text>
<line x1="360.06" y1="668.90" x2="360.06" y2="674.70" stroke="#000" stroke-width="2.1"/>
<text x="360.06" y="693.80" font-size="19.2" text-anchor="middle">2</text>
<line x1="181.40" y1="456.85" x2="175.70" y2="456.85" stroke="#000" stroke-width="2.1"/>
<text x="171.30" y="464.75" font-size="20.9" text-anchor="end">2.5</text>
<line x1="181.40" y1="499.06" x2="175.70" y2="499.06" stroke="#000" stroke-width="2.1"/>
<text x="171.30" y="506.96" font-size="20.9" text-anchor="end">2.0</text>
<line x1="181.40" y1="541.27" x2="175.70" y2="541.27" stroke="#000" stroke-width="2.1"/>
<text x="171.30" y="549.17" font-size="20.9" text-anchor="end">1.5</text>
<line x1="181.40" y1="583.48" x2="175.70" y2="583.48" stroke="#000" stroke-width="2.1"/>
<text x="171.30" y="591.38" font-size="20.9" text-anchor="end">1.0</text>
<line x1="181.40" y1="625.69" x2="175.70" y2="625.69" stroke="#000" stroke-width="2.1"/>
<text x="171.30" y="633.59" font-size="20.9" text-anchor="end">0.5</text>
<line x1="181.40" y1="667.90" x2="175.70" y2="667.90" stroke="#000" stroke-width="2.1"/>
<text x="171.30" y="675.80" font-size="20.9" text-anchor="end">0.0</text>
<text x="361.20" y="448.00" font-size="18" text-anchor="end"><tspan font-style="italic">r</tspan>(506) = –0.10</text>
<text x="361.20" y="473.20" font-size="18" text-anchor="end"><tspan font-style="italic">p</tspan> = 0.046</text>
<text transform="translate(122.50 613.20) rotate(-90) scale(0.8 1)" x="0" y="0" font-size="29.5" font-style="italic" stroke-width="1.0">σ</text>
<text x="130.50" y="598.70" font-size="21.6" text-anchor="start" transform="rotate(-90 130.50 598.70)">other/poor</text>
<g fill="#2e2070" fill-opacity="0.255" stroke="#2e2070" stroke-opacity="0.15" stroke-width="0.8">
<circle cx="579.0" cy="602.2" r="4.2"/>
<circle cx="627.8" cy="643.8" r="4.2"/>
<circle cx="606.2" cy="623.7" r="4.2"/>
<circle cx="628.9" cy="606.6" r="4.2"/>
<circle cx="573.4" cy="622.9" r="4.2"/>
<circle cx="607.3" cy="592.5" r="4.2"/>
<circle cx="571.3" cy="630.4" r="4.2"/>
<circle cx="596.9" cy="625.1" r="4.2"/>
<circle cx="606.4" cy="659.3" r="4.2"/>
<circle cx="592.7" cy="637.9" r="4.2"/>
<circle cx="590.5" cy="620.8" r="4.2"/>
<circle cx="608.2" cy="584.5" r="4.2"/>
<circle cx="595.1" cy="652.7" r="4.2"/>
<circle cx="526.0" cy="583.6" r="4.2"/>
<circle cx="585.1" cy="641.8" r="4.2"/>
<circle cx="613.7" cy="639.8" r="4.2"/>
<circle cx="593.2" cy="640.7" r="4.2"/>
<circle cx="566.0" cy="580.9" r="4.2"/>
<circle cx="585.9" cy="610.1" r="4.2"/>
<circle cx="603.6" cy="585.8" r="4.2"/>
<circle cx="538.9" cy="633.3" r="4.2"/>
<circle cx="621.7" cy="619.9" r="4.2"/>
<circle cx="600.0" cy="615.0" r="4.2"/>
<circle cx="535.7" cy="652.2" r="4.2"/>
<circle cx="598.7" cy="608.8" r="4.2"/>
<circle cx="624.6" cy="613.8" r="4.2"/>
<circle cx="587.2" cy="588.5" r="4.2"/>
<circle cx="614.1" cy="641.7" r="4.2"/>
<circle cx="620.0" cy="599.9" r="4.2"/>
<circle cx="572.4" cy="607.0" r="4.2"/>
<circle cx="580.9" cy="593.7" r="4.2"/>
<circle cx="572.8" cy="566.7" r="4.2"/>
<circle cx="598.4" cy="635.3" r="4.2"/>
<circle cx="641.6" cy="629.1" r="4.2"/>
<circle cx="610.3" cy="590.0" r="4.2"/>
<circle cx="572.1" cy="574.2" r="4.2"/>
<circle cx="618.3" cy="618.2" r="4.2"/>
<circle cx="577.8" cy="605.5" r="4.2"/>
<circle cx="619.9" cy="591.8" r="4.2"/>
<circle cx="652.4" cy="598.9" r="4.2"/>
<circle cx="614.5" cy="650.8" r="4.2"/>
<circle cx="601.6" cy="604.2" r="4.2"/>
<circle cx="589.0" cy="625.9" r="4.2"/>
<circle cx="539.5" cy="612.0" r="4.2"/>
<circle cx="597.4" cy="570.1" r="4.2"/>
<circle cx="535.0" cy="650.9" r="4.2"/>
<circle cx="634.9" cy="566.1" r="4.2"/>
<circle cx="571.4" cy="599.0" r="4.2"/>
<circle cx="564.1" cy="616.8" r="4.2"/>
<circle cx="603.7" cy="615.2" r="4.2"/>
<circle cx="573.1" cy="607.9" r="4.2"/>
<circle cx="617.6" cy="607.8" r="4.2"/>
<circle cx="609.9" cy="631.9" r="4.2"/>
<circle cx="529.9" cy="613.6" r="4.2"/>
<circle cx="571.4" cy="634.5" r="4.2"/>
<circle cx="516.8" cy="633.3" r="4.2"/>
<circle cx="566.8" cy="586.4" r="4.2"/>
<circle cx="585.0" cy="645.9" r="4.2"/>
<circle cx="565.9" cy="625.2" r="4.2"/>
<circle cx="596.5" cy="634.2" r="4.2"/>
<circle cx="575.1" cy="625.4" r="4.2"/>
<circle cx="594.3" cy="582.9" r="4.2"/>
<circle cx="550.6" cy="620.9" r="4.2"/>
<circle cx="609.5" cy="593.1" r="4.2"/>
<circle cx="583.4" cy="641.0" r="4.2"/>
<circle cx="591.4" cy="609.1" r="4.2"/>
<circle cx="598.9" cy="621.7" r="4.2"/>
<circle cx="614.9" cy="646.5" r="4.2"/>
<circle cx="601.7" cy="599.7" r="4.2"/>
<circle cx="613.6" cy="601.4" r="4.2"/>
<circle cx="602.2" cy="636.7" r="4.2"/>
<circle cx="606.3" cy="617.7" r="4.2"/>
<circle cx="607.7" cy="592.9" r="4.2"/>
<circle cx="491.2" cy="587.7" r="4.2"/>
<circle cx="586.9" cy="628.4" r="4.2"/>
<circle cx="580.1" cy="591.7" r="4.2"/>
<circle cx="629.0" cy="638.1" r="4.2"/>
<circle cx="573.9" cy="612.2" r="4.2"/>
<circle cx="599.2" cy="578.4" r="4.2"/>
<circle cx="568.5" cy="598.8" r="4.2"/>
<circle cx="501.4" cy="565.1" r="4.2"/>
<circle cx="583.8" cy="616.6" r="4.2"/>
<circle cx="607.1" cy="610.6" r="4.2"/>
<circle cx="575.5" cy="643.1" r="4.2"/>
<circle cx="561.5" cy="627.4" r="4.2"/>
<circle cx="533.6" cy="586.2" r="4.2"/>
<circle cx="549.5" cy="578.7" r="4.2"/>
<circle cx="600.6" cy="623.4" r="4.2"/>
<circle cx="581.7" cy="638.0" r="4.2"/>
<circle cx="595.7" cy="582.0" r="4.2"/>
<circle cx="541.6" cy="626.8" r="4.2"/>
<circle cx="602.7" cy="627.6" r="4.2"/>
<circle cx="622.2" cy="647.1" r="4.2"/>
<circle cx="589.0" cy="586.0" r="4.2"/>
<circle cx="600.3" cy="611.0" r="4.2"/>
<circle cx="602.0" cy="599.2" r="4.2"/>
<circle cx="636.6" cy="571.1" r="4.2"/>
<circle cx="600.5" cy="577.3" r="4.2"/>
<circle cx="525.2" cy="636.1" r="4.2"/>
<circle cx="592.1" cy="630.0" r="4.2"/>
<circle cx="552.4" cy="595.2" r="4.2"/>
<circle cx="575.8" cy="617.4" r="4.2"/>
<circle cx="593.0" cy="631.0" r="4.2"/>
<circle cx="630.1" cy="615.0" r="4.2"/>
<circle cx="556.0" cy="634.6" r="4.2"/>
<circle cx="611.2" cy="627.9" r="4.2"/>
<circle cx="643.3" cy="605.9" r="4.2"/>
<circle cx="634.3" cy="572.1" r="4.2"/>
<circle cx="509.8" cy="634.4" r="4.2"/>
<circle cx="570.0" cy="618.5" r="4.2"/>
<circle cx="582.9" cy="590.1" r="4.2"/>
<circle cx="579.6" cy="620.3" r="4.2"/>
<circle cx="562.5" cy="630.9" r="4.2"/>
<circle cx="590.1" cy="624.9" r="4.2"/>
<circle cx="577.0" cy="614.9" r="4.2"/>
<circle cx="587.8" cy="626.3" r="4.2"/>
<circle cx="586.1" cy="602.1" r="4.2"/>
<circle cx="569.2" cy="588.3" r="4.2"/>
<circle cx="595.2" cy="600.8" r="4.2"/>
<circle cx="601.3" cy="652.1" r="4.2"/>
<circle cx="532.6" cy="584.2" r="4.2"/>
<circle cx="517.5" cy="636.7" r="4.2"/>
<circle cx="564.0" cy="648.2" r="4.2"/>
<circle cx="569.9" cy="621.1" r="4.2"/>
<circle cx="603.0" cy="603.6" r="4.2"/>
<circle cx="566.0" cy="578.4" r="4.2"/>
<circle cx="618.4" cy="576.2" r="4.2"/>
<circle cx="593.9" cy="595.3" r="4.2"/>
<circle cx="560.6" cy="586.6" r="4.2"/>
<circle cx="596.3" cy="580.0" r="4.2"/>
<circle cx="551.5" cy="611.6" r="4.2"/>
<circle cx="560.0" cy="643.2" r="4.2"/>
<circle cx="618.0" cy="642.5" r="4.2"/>
<circle cx="631.8" cy="594.0" r="4.2"/>
<circle cx="560.7" cy="573.7" r="4.2"/>
<circle cx="515.3" cy="581.5" r="4.2"/>
<circle cx="518.6" cy="577.6" r="4.2"/>
<circle cx="620.4" cy="568.9" r="4.2"/>
<circle cx="571.0" cy="627.9" r="4.2"/>
<circle cx="553.1" cy="624.4" r="4.2"/>
<circle cx="585.3" cy="623.1" r="4.2"/>
<circle cx="603.2" cy="627.1" r="4.2"/>
<circle cx="564.4" cy="643.1" r="4.2"/>
<circle cx="622.6" cy="601.0" r="4.2"/>
<circle cx="607.5" cy="594.3" r="4.2"/>
<circle cx="593.4" cy="618.7" r="4.2"/>
<circle cx="631.3" cy="640.3" r="4.2"/>
<circle cx="562.6" cy="566.8" r="4.2"/>
<circle cx="553.6" cy="626.3" r="4.2"/>
<circle cx="517.9" cy="620.2" r="4.2"/>
<circle cx="573.9" cy="607.1" r="4.2"/>
<circle cx="593.7" cy="605.6" r="4.2"/>
<circle cx="578.6" cy="642.2" r="4.2"/>
<circle cx="605.0" cy="633.8" r="4.2"/>
<circle cx="599.3" cy="603.7" r="4.2"/>
<circle cx="523.7" cy="627.4" r="4.2"/>
<circle cx="578.4" cy="580.7" r="4.2"/>
<circle cx="617.1" cy="611.8" r="4.2"/>
<circle cx="557.9" cy="617.7" r="4.2"/>
<circle cx="509.6" cy="633.0" r="4.2"/>
<circle cx="569.8" cy="596.7" r="4.2"/>
<circle cx="588.0" cy="607.5" r="4.2"/>
<circle cx="621.0" cy="626.4" r="4.2"/>
<circle cx="616.4" cy="613.2" r="4.2"/>
<circle cx="605.5" cy="633.4" r="4.2"/>
<circle cx="577.0" cy="615.0" r="4.2"/>
<circle cx="568.4" cy="596.5" r="4.2"/>
<circle cx="596.6" cy="654.6" r="4.2"/>
<circle cx="560.3" cy="614.8" r="4.2"/>
<circle cx="598.4" cy="596.5" r="4.2"/>
<circle cx="579.3" cy="595.8" r="4.2"/>
<circle cx="576.0" cy="613.8" r="4.2"/>
<circle cx="565.3" cy="596.0" r="4.2"/>
<circle cx="601.3" cy="649.5" r="4.2"/>
<circle cx="579.0" cy="646.7" r="4.2"/>
<circle cx="580.0" cy="617.9" r="4.2"/>
<circle cx="582.4" cy="588.5" r="4.2"/>
<circle cx="579.9" cy="609.7" r="4.2"/>
<circle cx="604.7" cy="621.2" r="4.2"/>
<circle cx="515.5" cy="635.7" r="4.2"/>
<circle cx="580.5" cy="626.0" r="4.2"/>
<circle cx="557.2" cy="603.6" r="4.2"/>
<circle cx="527.7" cy="573.5" r="4.2"/>
<circle cx="604.4" cy="607.3" r="4.2"/>
<circle cx="583.4" cy="608.0" r="4.2"/>
<circle cx="512.9" cy="644.7" r="4.2"/>
<circle cx="492.1" cy="573.9" r="4.2"/>
<circle cx="598.5" cy="573.9" r="4.2"/>
<circle cx="593.0" cy="623.9" r="4.2"/>
<circle cx="551.7" cy="648.0" r="4.2"/>
<circle cx="586.6" cy="578.5" r="4.2"/>
<circle cx="571.0" cy="593.7" r="4.2"/>
<circle cx="625.4" cy="607.3" r="4.2"/>
<circle cx="580.6" cy="580.1" r="4.2"/>
<circle cx="559.0" cy="569.1" r="4.2"/>
<circle cx="547.8" cy="626.6" r="4.2"/>
<circle cx="561.9" cy="585.1" r="4.2"/>
<circle cx="608.7" cy="618.3" r="4.2"/>
<circle cx="589.4" cy="622.2" r="4.2"/>
<circle cx="575.2" cy="599.6" r="4.2"/>
<circle cx="546.7" cy="611.2" r="4.2"/>
<circle cx="589.5" cy="597.8" r="4.2"/>
<circle cx="626.8" cy="638.4" r="4.2"/>
<circle cx="572.3" cy="651.2" r="4.2"/>
<circle cx="592.7" cy="639.5" r="4.2"/>
<circle cx="590.0" cy="630.8" r="4.2"/>
<circle cx="540.9" cy="627.3" r="4.2"/>
<circle cx="577.5" cy="620.2" r="4.2"/>
<circle cx="581.7" cy="640.9" r="4.2"/>
<circle cx="599.9" cy="630.8" r="4.2"/>
<circle cx="593.6" cy="628.2" r="4.2"/>
<circle cx="509.0" cy="594.4" r="4.2"/>
<circle cx="586.3" cy="618.2" r="4.2"/>
<circle cx="617.8" cy="650.9" r="4.2"/>
<circle cx="590.2" cy="594.7" r="4.2"/>
<circle cx="598.6" cy="598.6" r="4.2"/>
<circle cx="576.3" cy="636.0" r="4.2"/>
<circle cx="595.8" cy="630.6" r="4.2"/>
<circle cx="592.9" cy="594.1" r="4.2"/>
<circle cx="544.3" cy="617.1" r="4.2"/>
<circle cx="595.6" cy="644.8" r="4.2"/>
<circle cx="616.3" cy="602.4" r="4.2"/>
<circle cx="561.5" cy="613.3" r="4.2"/>
<circle cx="576.7" cy="606.6" r="4.2"/>
<circle cx="583.6" cy="586.7" r="4.2"/>
<circle cx="554.8" cy="604.9" r="4.2"/>
<circle cx="618.3" cy="643.5" r="4.2"/>
<circle cx="541.8" cy="591.2" r="4.2"/>
<circle cx="627.5" cy="631.8" r="4.2"/>
<circle cx="611.6" cy="607.6" r="4.2"/>
<circle cx="584.1" cy="627.0" r="4.2"/>
<circle cx="610.8" cy="644.6" r="4.2"/>
<circle cx="593.3" cy="614.5" r="4.2"/>
<circle cx="589.4" cy="611.3" r="4.2"/>
<circle cx="612.4" cy="611.8" r="4.2"/>
<circle cx="566.2" cy="584.6" r="4.2"/>
<circle cx="509.6" cy="626.8" r="4.2"/>
<circle cx="606.2" cy="636.4" r="4.2"/>
<circle cx="545.0" cy="580.0" r="4.2"/>
<circle cx="625.7" cy="575.1" r="4.2"/>
<circle cx="561.9" cy="643.9" r="4.2"/>
<circle cx="512.3" cy="619.5" r="4.2"/>
<circle cx="597.0" cy="603.3" r="4.2"/>
<circle cx="581.2" cy="584.8" r="4.2"/>
<circle cx="598.2" cy="653.1" r="4.2"/>
<circle cx="585.0" cy="590.7" r="4.2"/>
<circle cx="612.0" cy="561.1" r="4.2"/>
<circle cx="578.8" cy="616.0" r="4.2"/>
<circle cx="622.5" cy="623.7" r="4.2"/>
<circle cx="595.6" cy="614.3" r="4.2"/>
<circle cx="594.3" cy="634.0" r="4.2"/>
<circle cx="593.3" cy="577.8" r="4.2"/>
<circle cx="533.0" cy="639.6" r="4.2"/>
<circle cx="560.1" cy="644.0" r="4.2"/>
<circle cx="578.3" cy="589.2" r="4.2"/>
<circle cx="619.3" cy="626.9" r="4.2"/>
<circle cx="527.9" cy="596.6" r="4.2"/>
<circle cx="594.2" cy="622.4" r="4.2"/>
<circle cx="585.7" cy="612.8" r="4.2"/>
<circle cx="552.7" cy="620.5" r="4.2"/>
<circle cx="610.5" cy="583.0" r="4.2"/>
<circle cx="626.7" cy="626.5" r="4.2"/>
<circle cx="571.9" cy="617.7" r="4.2"/>
<circle cx="596.5" cy="602.3" r="4.2"/>
<circle cx="612.7" cy="632.5" r="4.2"/>
<circle cx="627.0" cy="629.7" r="4.2"/>
<circle cx="571.4" cy="613.7" r="4.2"/>
<circle cx="595.2" cy="657.1" r="4.2"/>
<circle cx="610.5" cy="596.7" r="4.2"/>
<circle cx="568.7" cy="566.0" r="4.2"/>
<circle cx="576.2" cy="625.7" r="4.2"/>
<circle cx="571.5" cy="612.4" r="4.2"/>
<circle cx="554.8" cy="616.8" r="4.2"/>
<circle cx="589.0" cy="582.9" r="4.2"/>
<circle cx="567.5" cy="618.6" r="4.2"/>
<circle cx="636.6" cy="657.2" r="4.2"/>
<circle cx="637.8" cy="611.7" r="4.2"/>
<circle cx="516.4" cy="639.5" r="4.2"/>
<circle cx="588.7" cy="607.0" r="4.2"/>
<circle cx="618.0" cy="631.6" r="4.2"/>
<circle cx="591.5" cy="603.2" r="4.2"/>
<circle cx="582.1" cy="592.0" r="4.2"/>
<circle cx="580.8" cy="620.6" r="4.2"/>
<circle cx="588.1" cy="624.6" r="4.2"/>
<circle cx="581.7" cy="621.3" r="4.2"/>
<circle cx="592.3" cy="624.6" r="4.2"/>
<circle cx="525.5" cy="633.6" r="4.2"/>
<circle cx="591.1" cy="623.8" r="4.2"/>
<circle cx="576.1" cy="645.5" r="4.2"/>
<circle cx="571.6" cy="638.5" r="4.2"/>
<circle cx="630.0" cy="564.2" r="4.2"/>
<circle cx="577.6" cy="630.8" r="4.2"/>
<circle cx="502.5" cy="592.2" r="4.2"/>
<circle cx="623.1" cy="627.3" r="4.2"/>
<circle cx="616.4" cy="614.9" r="4.2"/>
<circle cx="578.5" cy="637.8" r="4.2"/>
<circle cx="513.9" cy="595.5" r="4.2"/>
<circle cx="615.2" cy="640.5" r="4.2"/>
<circle cx="606.5" cy="598.3" r="4.2"/>
<circle cx="590.1" cy="653.5" r="4.2"/>
<circle cx="534.4" cy="571.2" r="4.2"/>
<circle cx="496.5" cy="583.3" r="4.2"/>
<circle cx="611.0" cy="623.3" r="4.2"/>
<circle cx="604.5" cy="628.2" r="4.2"/>
<circle cx="574.4" cy="602.3" r="4.2"/>
<circle cx="573.1" cy="613.3" r="4.2"/>
<circle cx="575.4" cy="566.0" r="4.2"/>
<circle cx="560.8" cy="580.6" r="4.2"/>
<circle cx="600.6" cy="634.3" r="4.2"/>
<circle cx="596.2" cy="632.7" r="4.2"/>
<circle cx="608.8" cy="623.6" r="4.2"/>
<circle cx="651.6" cy="652.3" r="4.2"/>
<circle cx="555.6" cy="624.6" r="4.2"/>
<circle cx="591.4" cy="647.3" r="4.2"/>
<circle cx="601.8" cy="633.0" r="4.2"/>
<circle cx="580.7" cy="638.9" r="4.2"/>
<circle cx="585.4" cy="609.7" r="4.2"/>
<circle cx="637.4" cy="623.8" r="4.2"/>
<circle cx="567.1" cy="575.7" r="4.2"/>
<circle cx="590.5" cy="613.4" r="4.2"/>
<circle cx="504.4" cy="588.8" r="4.2"/>
<circle cx="561.4" cy="617.8" r="4.2"/>
<circle cx="576.1" cy="630.8" r="4.2"/>
<circle cx="617.9" cy="588.3" r="4.2"/>
<circle cx="610.3" cy="604.9" r="4.2"/>
<circle cx="574.0" cy="625.1" r="4.2"/>
<circle cx="602.3" cy="623.3" r="4.2"/>
<circle cx="591.3" cy="604.0" r="4.2"/>
<circle cx="632.1" cy="567.7" r="4.2"/>
<circle cx="628.6" cy="628.4" r="4.2"/>
<circle cx="605.8" cy="566.1" r="4.2"/>
<circle cx="508.1" cy="627.4" r="4.2"/>
<circle cx="580.0" cy="624.8" r="4.2"/>
<circle cx="506.2" cy="583.9" r="4.2"/>
<circle cx="577.2" cy="617.7" r="4.2"/>
<circle cx="616.3" cy="608.1" r="4.2"/>
<circle cx="598.9" cy="627.7" r="4.2"/>
<circle cx="572.7" cy="628.7" r="4.2"/>
<circle cx="590.0" cy="633.7" r="4.2"/>
<circle cx="584.9" cy="619.1" r="4.2"/>
<circle cx="556.8" cy="617.5" r="4.2"/>
<circle cx="606.1" cy="625.6" r="4.2"/>
<circle cx="592.5" cy="593.8" r="4.2"/>
<circle cx="555.5" cy="602.4" r="4.2"/>
<circle cx="590.9" cy="613.3" r="4.2"/>
<circle cx="577.3" cy="627.6" r="4.2"/>
<circle cx="631.5" cy="616.9" r="4.2"/>
<circle cx="634.2" cy="599.7" r="4.2"/>
<circle cx="588.0" cy="622.5" r="4.2"/>
<circle cx="547.5" cy="580.3" r="4.2"/>
<circle cx="506.3" cy="588.3" r="4.2"/>
<circle cx="592.9" cy="618.0" r="4.2"/>
<circle cx="580.5" cy="630.2" r="4.2"/>
<circle cx="604.1" cy="614.3" r="4.2"/>
<circle cx="523.0" cy="602.0" r="4.2"/>
<circle cx="658.5" cy="659.8" r="4.2"/>
<circle cx="589.4" cy="606.7" r="4.2"/>
<circle cx="576.3" cy="589.8" r="4.2"/>
<circle cx="608.0" cy="601.6" r="4.2"/>
<circle cx="585.6" cy="627.5" r="4.2"/>
<circle cx="611.0" cy="586.2" r="4.2"/>
<circle cx="612.4" cy="570.3" r="4.2"/>
<circle cx="607.9" cy="579.8" r="4.2"/>
<circle cx="603.0" cy="601.9" r="4.2"/>
<circle cx="593.3" cy="611.5" r="4.2"/>
<circle cx="618.2" cy="639.6" r="4.2"/>
<circle cx="596.7" cy="584.6" r="4.2"/>
<circle cx="587.0" cy="605.9" r="4.2"/>
<circle cx="559.8" cy="599.2" r="4.2"/>
<circle cx="565.6" cy="636.9" r="4.2"/>
<circle cx="605.0" cy="596.2" r="4.2"/>
<circle cx="608.2" cy="605.9" r="4.2"/>
<circle cx="579.1" cy="600.3" r="4.2"/>
<circle cx="550.9" cy="584.6" r="4.2"/>
<circle cx="591.6" cy="567.6" r="4.2"/>
<circle cx="599.4" cy="574.4" r="4.2"/>
<circle cx="571.3" cy="601.5" r="4.2"/>
<circle cx="595.7" cy="589.3" r="4.2"/>
<circle cx="578.2" cy="614.4" r="4.2"/>
<circle cx="635.6" cy="617.8" r="4.2"/>
<circle cx="532.8" cy="630.2" r="4.2"/>
<circle cx="536.9" cy="637.6" r="4.2"/>
<circle cx="607.3" cy="652.5" r="4.2"/>
<circle cx="524.3" cy="600.6" r="4.2"/>
<circle cx="571.1" cy="587.7" r="4.2"/>
<circle cx="633.7" cy="638.4" r="4.2"/>
<circle cx="611.9" cy="565.8" r="4.2"/>
<circle cx="568.8" cy="639.3" r="4.2"/>
<circle cx="597.9" cy="641.5" r="4.2"/>
<circle cx="617.1" cy="593.7" r="4.2"/>
<circle cx="579.7" cy="629.9" r="4.2"/>
<circle cx="607.2" cy="631.1" r="4.2"/>
<circle cx="617.6" cy="587.1" r="4.2"/>
<circle cx="567.5" cy="607.7" r="4.2"/>
<circle cx="599.3" cy="568.7" r="4.2"/>
<circle cx="509.5" cy="607.9" r="4.2"/>
<circle cx="570.2" cy="637.2" r="4.2"/>
<circle cx="619.5" cy="587.1" r="4.2"/>
<circle cx="622.7" cy="621.8" r="4.2"/>
<circle cx="569.3" cy="659.1" r="4.2"/>
<circle cx="549.9" cy="599.6" r="4.2"/>
<circle cx="621.9" cy="658.5" r="4.2"/>
<circle cx="574.3" cy="586.4" r="4.2"/>
<circle cx="599.9" cy="593.1" r="4.2"/>
<circle cx="545.0" cy="593.5" r="4.2"/>
<circle cx="624.3" cy="622.4" r="4.2"/>
<circle cx="607.5" cy="622.2" r="4.2"/>
<circle cx="597.8" cy="603.3" r="4.2"/>
<circle cx="581.2" cy="570.3" r="4.2"/>
<circle cx="591.0" cy="597.5" r="4.2"/>
<circle cx="580.9" cy="625.0" r="4.2"/>
<circle cx="596.5" cy="604.3" r="4.2"/>
<circle cx="649.4" cy="571.0" r="4.2"/>
<circle cx="645.7" cy="623.7" r="4.2"/>
<circle cx="582.9" cy="645.3" r="4.2"/>
<circle cx="518.7" cy="620.5" r="4.2"/>
<circle cx="496.3" cy="587.7" r="4.2"/>
<circle cx="589.4" cy="622.8" r="4.2"/>
<circle cx="543.7" cy="608.7" r="4.2"/>
<circle cx="591.5" cy="646.8" r="4.2"/>
<circle cx="555.7" cy="582.4" r="4.2"/>
<circle cx="639.9" cy="589.7" r="4.2"/>
<circle cx="573.5" cy="580.0" r="4.2"/>
<circle cx="562.5" cy="632.9" r="4.2"/>
<circle cx="581.4" cy="620.6" r="4.2"/>
<circle cx="624.3" cy="634.0" r="4.2"/>
<circle cx="552.8" cy="649.8" r="4.2"/>
<circle cx="566.1" cy="581.2" r="4.2"/>
<circle cx="555.5" cy="613.7" r="4.2"/>
<circle cx="581.1" cy="629.6" r="4.2"/>
<circle cx="595.8" cy="604.6" r="4.2"/>
<circle cx="618.6" cy="606.8" r="4.2"/>
<circle cx="590.8" cy="642.9" r="4.2"/>
<circle cx="562.6" cy="655.7" r="4.2"/>
<circle cx="594.9" cy="634.9" r="4.2"/>
<circle cx="570.8" cy="600.2" r="4.2"/>
<circle cx="575.7" cy="594.1" r="4.2"/>
<circle cx="533.1" cy="594.0" r="4.2"/>
<circle cx="583.6" cy="653.7" r="4.2"/>
<circle cx="601.5" cy="643.2" r="4.2"/>
<circle cx="576.8" cy="564.4" r="4.2"/>
<circle cx="570.3" cy="638.2" r="4.2"/>
<circle cx="540.5" cy="607.9" r="4.2"/>
<circle cx="564.7" cy="612.3" r="4.2"/>
<circle cx="530.5" cy="481.8" r="4.2"/>
<circle cx="601.2" cy="493.4" r="4.2"/>
<circle cx="616.6" cy="493.4" r="4.2"/>
<circle cx="591.5" cy="500.4" r="4.2"/>
<circle cx="628.0" cy="505.4" r="4.2"/>
<circle cx="571.4" cy="508.9" r="4.2"/>
<circle cx="579.3" cy="508.9" r="4.2"/>
<circle cx="586.9" cy="510.9" r="4.2"/>
<circle cx="580.7" cy="517.1" r="4.2"/>
<circle cx="499.0" cy="515.3" r="4.2"/>
<circle cx="553.0" cy="515.3" r="4.2"/>
<circle cx="554.5" cy="521.8" r="4.2"/>
<circle cx="562.6" cy="523.5" r="4.2"/>
<circle cx="536.9" cy="518.8" r="4.2"/>
<circle cx="529.6" cy="523.8" r="4.2"/>
<circle cx="535.5" cy="527.0" r="4.2"/>
<circle cx="542.8" cy="528.2" r="4.2"/>
<circle cx="532.6" cy="530.5" r="4.2"/>
<circle cx="619.0" cy="519.4" r="4.2"/>
<circle cx="651.1" cy="523.8" r="4.2"/>
<circle cx="488.8" cy="527.0" r="4.2"/>
<circle cx="507.7" cy="527.6" r="4.2"/>
<circle cx="512.7" cy="534.3" r="4.2"/>
<circle cx="515.6" cy="537.2" r="4.2"/>
<circle cx="487.9" cy="537.2" r="4.2"/>
<circle cx="496.9" cy="539.9" r="4.2"/>
<circle cx="633.3" cy="527.0" r="4.2"/>
<circle cx="630.9" cy="533.4" r="4.2"/>
<circle cx="558.8" cy="534.9" r="4.2"/>
<circle cx="556.5" cy="540.7" r="4.2"/>
<circle cx="549.5" cy="543.6" r="4.2"/>
<circle cx="539.9" cy="541.6" r="4.2"/>
<circle cx="574.0" cy="532.8" r="4.2"/>
<circle cx="574.9" cy="537.8" r="4.2"/>
<circle cx="576.4" cy="540.7" r="4.2"/>
<circle cx="581.3" cy="541.3" r="4.2"/>
<circle cx="596.2" cy="531.1" r="4.2"/>
<circle cx="598.2" cy="532.8" r="4.2"/>
<circle cx="589.5" cy="539.3" r="4.2"/>
<circle cx="593.9" cy="541.3" r="4.2"/>
<circle cx="596.8" cy="542.8" r="4.2"/>
<circle cx="606.4" cy="534.0" r="4.2"/>
<circle cx="612.3" cy="535.5" r="4.2"/>
<circle cx="608.5" cy="539.3" r="4.2"/>
<circle cx="614.9" cy="543.1" r="4.2"/>
<circle cx="628.0" cy="543.1" r="4.2"/>
<circle cx="634.7" cy="542.8" r="4.2"/>
<circle cx="518.8" cy="553.9" r="4.2"/>
<circle cx="523.2" cy="556.8" r="4.2"/>
<circle cx="532.6" cy="552.4" r="4.2"/>
<circle cx="568.5" cy="548.6" r="4.2"/>
<circle cx="572.8" cy="553.9" r="4.2"/>
<circle cx="579.3" cy="554.7" r="4.2"/>
<circle cx="566.1" cy="556.8" r="4.2"/>
<circle cx="558.8" cy="558.2" r="4.2"/>
<circle cx="623.1" cy="552.4" r="4.2"/>
<circle cx="621.6" cy="555.3" r="4.2"/>
<circle cx="614.3" cy="553.9" r="4.2"/>
<circle cx="609.9" cy="553.9" r="4.2"/>
<circle cx="602.6" cy="558.2" r="4.2"/>
<circle cx="491.1" cy="559.7" r="4.2"/>
<circle cx="504.8" cy="559.7" r="4.2"/>
<circle cx="655.2" cy="559.7" r="4.2"/>
<circle cx="663.4" cy="559.7" r="4.2"/>
</g>
<g fill="#2e2070" fill-opacity="0.12">
<circle cx="589.5" cy="456.6" r="4.45"/>
<circle cx="593.9" cy="489.1" r="4.45"/>
</g>
<path d="M487.9 577.1 L493.8 578.2 L499.7 579.4 L505.6 580.6 L511.5 581.8 L517.5 582.9 L523.4 584.1 L529.3 585.2 L535.2 586.3 L541.1 587.4 L547.0 588.5 L552.9 589.6 L558.8 590.6 L564.7 591.6 L570.6 592.5 L576.5 593.5 L582.5 594.3 L588.4 595.1 L594.3 595.9 L600.2 596.6 L606.1 597.3 L612.0 597.9 L617.9 598.5 L623.8 599.0 L629.7 599.5 L635.7 600.0 L641.6 600.5 L647.5 600.9 L653.4 601.3 L659.3 601.7 L665.2 602.1 L665.2 616.3 L659.3 615.1 L653.4 614.0 L647.5 612.9 L641.6 611.8 L635.7 610.7 L629.7 609.6 L623.8 608.6 L617.9 607.6 L612.0 606.6 L606.1 605.7 L600.2 604.8 L594.3 603.9 L588.4 603.1 L582.5 602.4 L576.5 601.7 L570.6 601.1 L564.7 600.5 L558.8 600.0 L552.9 599.5 L547.0 599.0 L541.1 598.5 L535.2 598.1 L529.3 597.6 L523.4 597.2 L517.5 596.8 L511.5 596.4 L505.6 596.0 L499.7 595.7 L493.8 595.3 L487.9 594.9Z" fill="#2e2070" fill-opacity="0.4"/>
<line x1="487.9" y1="586.0" x2="665.2" y2="609.2" stroke="#2e2070" stroke-width="4.2"/>
<path d="M479.40 446.20V668.90H674.70" fill="none" stroke="#000" stroke-width="2.1"/>
<line x1="512.44" y1="668.90" x2="512.44" y2="674.70" stroke="#000" stroke-width="2.1"/>
<text x="512.44" y="693.80" font-size="19.2" text-anchor="middle">-2</text>
<line x1="549.52" y1="668.90" x2="549.52" y2="674.70" stroke="#000" stroke-width="2.1"/>
<text x="549.52" y="693.80" font-size="19.2" text-anchor="middle">-1</text>
<line x1="586.60" y1="668.90" x2="586.60" y2="674.70" stroke="#000" stroke-width="2.1"/>
<text x="586.60" y="693.80" font-size="19.2" text-anchor="middle">0</text>
<line x1="623.68" y1="668.90" x2="623.68" y2="674.70" stroke="#000" stroke-width="2.1"/>
<text x="623.68" y="693.80" font-size="19.2" text-anchor="middle">1</text>
<line x1="660.76" y1="668.90" x2="660.76" y2="674.70" stroke="#000" stroke-width="2.1"/>
<text x="660.76" y="693.80" font-size="19.2" text-anchor="middle">2</text>
<line x1="479.40" y1="476.20" x2="473.70" y2="476.20" stroke="#000" stroke-width="2.1"/>
<text x="469.30" y="484.10" font-size="20.9" text-anchor="end">2.0</text>
<line x1="479.40" y1="524.30" x2="473.70" y2="524.30" stroke="#000" stroke-width="2.1"/>
<text x="469.30" y="532.20" font-size="20.9" text-anchor="end">1.5</text>
<line x1="479.40" y1="572.40" x2="473.70" y2="572.40" stroke="#000" stroke-width="2.1"/>
<text x="469.30" y="580.30" font-size="20.9" text-anchor="end">1.0</text>
<line x1="479.40" y1="620.50" x2="473.70" y2="620.50" stroke="#000" stroke-width="2.1"/>
<text x="469.30" y="628.40" font-size="20.9" text-anchor="end">0.5</text>
<text x="658.40" y="450.80" font-size="18" text-anchor="end"><tspan font-style="italic">r</tspan>(506) = –0.14</text>
<text x="658.40" y="477.10" font-size="18" text-anchor="end"><tspan font-style="italic">p</tspan> = 0.007</text>
<text transform="translate(420.00 613.20) rotate(-90) scale(0.8 1)" x="0" y="0" font-size="29.5" font-style="italic" stroke-width="1.0">σ</text>
<text x="428.00" y="598.70" font-size="21.6" text-anchor="start" transform="rotate(-90 428.00 598.70)">other/poor</text>
<g fill="#03326a" fill-opacity="0.255" stroke="#03326a" stroke-opacity="0.15" stroke-width="0.8">
<circle cx="259.6" cy="901.0" r="4.2"/>
<circle cx="282.3" cy="874.7" r="4.2"/>
<circle cx="290.4" cy="843.5" r="4.2"/>
<circle cx="306.8" cy="893.5" r="4.2"/>
<circle cx="316.8" cy="878.7" r="4.2"/>
<circle cx="291.6" cy="887.6" r="4.2"/>
<circle cx="319.2" cy="865.8" r="4.2"/>
<circle cx="290.0" cy="916.7" r="4.2"/>
<circle cx="263.8" cy="868.1" r="4.2"/>
<circle cx="320.5" cy="894.0" r="4.2"/>
<circle cx="324.9" cy="869.6" r="4.2"/>
<circle cx="300.0" cy="885.5" r="4.2"/>
<circle cx="315.7" cy="905.4" r="4.2"/>
<circle cx="291.4" cy="840.6" r="4.2"/>
<circle cx="320.6" cy="880.5" r="4.2"/>
<circle cx="311.4" cy="868.5" r="4.2"/>
<circle cx="263.3" cy="905.4" r="4.2"/>
<circle cx="287.5" cy="910.4" r="4.2"/>
<circle cx="311.1" cy="859.4" r="4.2"/>
<circle cx="254.9" cy="892.0" r="4.2"/>
<circle cx="326.9" cy="903.2" r="4.2"/>
<circle cx="326.9" cy="914.8" r="4.2"/>
<circle cx="308.9" cy="888.1" r="4.2"/>
<circle cx="289.4" cy="922.6" r="4.2"/>
<circle cx="276.9" cy="868.6" r="4.2"/>
<circle cx="298.8" cy="924.4" r="4.2"/>
<circle cx="307.0" cy="873.3" r="4.2"/>
<circle cx="298.9" cy="914.1" r="4.2"/>
<circle cx="304.0" cy="883.2" r="4.2"/>
<circle cx="276.5" cy="900.6" r="4.2"/>
<circle cx="342.5" cy="926.5" r="4.2"/>
<circle cx="262.8" cy="842.5" r="4.2"/>
<circle cx="316.0" cy="904.8" r="4.2"/>
<circle cx="326.5" cy="933.2" r="4.2"/>
<circle cx="291.9" cy="846.2" r="4.2"/>
<circle cx="314.2" cy="895.6" r="4.2"/>
<circle cx="316.9" cy="855.6" r="4.2"/>
<circle cx="293.6" cy="875.2" r="4.2"/>
<circle cx="311.9" cy="916.7" r="4.2"/>
<circle cx="308.7" cy="902.9" r="4.2"/>
<circle cx="242.5" cy="856.6" r="4.2"/>
<circle cx="270.0" cy="859.8" r="4.2"/>
<circle cx="297.3" cy="914.5" r="4.2"/>
<circle cx="293.3" cy="911.6" r="4.2"/>
<circle cx="281.2" cy="889.4" r="4.2"/>
<circle cx="339.1" cy="925.2" r="4.2"/>
<circle cx="358.6" cy="882.8" r="4.2"/>
<circle cx="328.6" cy="864.9" r="4.2"/>
<circle cx="296.5" cy="902.0" r="4.2"/>
<circle cx="277.3" cy="896.1" r="4.2"/>
<circle cx="358.8" cy="863.8" r="4.2"/>
<circle cx="275.2" cy="836.4" r="4.2"/>
<circle cx="255.0" cy="885.8" r="4.2"/>
<circle cx="305.1" cy="907.6" r="4.2"/>
<circle cx="309.0" cy="895.4" r="4.2"/>
<circle cx="239.5" cy="901.9" r="4.2"/>
<circle cx="314.1" cy="901.4" r="4.2"/>
<circle cx="296.5" cy="846.5" r="4.2"/>
<circle cx="278.3" cy="875.8" r="4.2"/>
<circle cx="294.0" cy="877.8" r="4.2"/>
<circle cx="282.6" cy="917.1" r="4.2"/>
<circle cx="293.5" cy="890.4" r="4.2"/>
<circle cx="296.0" cy="859.3" r="4.2"/>
<circle cx="306.7" cy="838.6" r="4.2"/>
<circle cx="303.7" cy="904.1" r="4.2"/>
<circle cx="326.5" cy="896.9" r="4.2"/>
<circle cx="283.0" cy="928.8" r="4.2"/>
<circle cx="331.6" cy="893.9" r="4.2"/>
<circle cx="272.0" cy="900.9" r="4.2"/>
<circle cx="326.9" cy="928.4" r="4.2"/>
<circle cx="303.5" cy="915.1" r="4.2"/>
<circle cx="295.3" cy="909.2" r="4.2"/>
<circle cx="307.7" cy="871.5" r="4.2"/>
<circle cx="295.6" cy="880.7" r="4.2"/>
<circle cx="323.3" cy="886.8" r="4.2"/>
<circle cx="318.8" cy="863.5" r="4.2"/>
<circle cx="242.2" cy="851.2" r="4.2"/>
<circle cx="287.8" cy="930.9" r="4.2"/>
<circle cx="319.9" cy="903.3" r="4.2"/>
<circle cx="293.3" cy="902.0" r="4.2"/>
<circle cx="249.1" cy="891.5" r="4.2"/>
<circle cx="330.8" cy="869.1" r="4.2"/>
<circle cx="355.5" cy="897.5" r="4.2"/>
<circle cx="250.8" cy="879.5" r="4.2"/>
<circle cx="309.0" cy="905.9" r="4.2"/>
<circle cx="310.1" cy="866.1" r="4.2"/>
<circle cx="275.6" cy="907.8" r="4.2"/>
<circle cx="273.6" cy="917.3" r="4.2"/>
<circle cx="251.0" cy="906.5" r="4.2"/>
<circle cx="354.0" cy="863.8" r="4.2"/>
<circle cx="356.3" cy="842.8" r="4.2"/>
<circle cx="352.6" cy="899.5" r="4.2"/>
<circle cx="302.8" cy="913.7" r="4.2"/>
<circle cx="321.6" cy="908.7" r="4.2"/>
<circle cx="286.5" cy="840.4" r="4.2"/>
<circle cx="296.2" cy="904.2" r="4.2"/>
<circle cx="342.2" cy="861.6" r="4.2"/>
<circle cx="329.1" cy="890.3" r="4.2"/>
<circle cx="282.3" cy="907.3" r="4.2"/>
<circle cx="282.8" cy="909.0" r="4.2"/>
<circle cx="326.9" cy="860.1" r="4.2"/>
<circle cx="314.2" cy="884.4" r="4.2"/>
<circle cx="289.9" cy="912.4" r="4.2"/>
<circle cx="338.9" cy="911.4" r="4.2"/>
<circle cx="329.1" cy="889.4" r="4.2"/>
<circle cx="310.0" cy="913.3" r="4.2"/>
<circle cx="312.5" cy="892.0" r="4.2"/>
<circle cx="287.0" cy="922.1" r="4.2"/>
<circle cx="352.4" cy="909.9" r="4.2"/>
<circle cx="328.2" cy="927.0" r="4.2"/>
<circle cx="305.5" cy="910.2" r="4.2"/>
<circle cx="289.7" cy="925.0" r="4.2"/>
<circle cx="325.1" cy="921.4" r="4.2"/>
<circle cx="310.7" cy="914.6" r="4.2"/>
<circle cx="279.0" cy="877.9" r="4.2"/>
<circle cx="346.3" cy="898.1" r="4.2"/>
<circle cx="306.4" cy="920.2" r="4.2"/>
<circle cx="249.8" cy="884.4" r="4.2"/>
<circle cx="277.3" cy="887.3" r="4.2"/>
<circle cx="284.8" cy="911.7" r="4.2"/>
<circle cx="312.3" cy="869.8" r="4.2"/>
<circle cx="322.8" cy="871.2" r="4.2"/>
<circle cx="295.4" cy="907.2" r="4.2"/>
<circle cx="302.5" cy="918.9" r="4.2"/>
<circle cx="281.5" cy="859.3" r="4.2"/>
<circle cx="335.7" cy="932.1" r="4.2"/>
<circle cx="300.3" cy="915.0" r="4.2"/>
<circle cx="317.1" cy="915.2" r="4.2"/>
<circle cx="295.9" cy="881.6" r="4.2"/>
<circle cx="347.0" cy="904.6" r="4.2"/>
<circle cx="241.1" cy="868.6" r="4.2"/>
<circle cx="281.8" cy="912.2" r="4.2"/>
<circle cx="279.4" cy="868.3" r="4.2"/>
<circle cx="295.0" cy="880.3" r="4.2"/>
<circle cx="324.1" cy="924.1" r="4.2"/>
<circle cx="304.2" cy="929.3" r="4.2"/>
<circle cx="318.5" cy="900.8" r="4.2"/>
<circle cx="305.6" cy="875.5" r="4.2"/>
<circle cx="295.5" cy="901.8" r="4.2"/>
<circle cx="303.6" cy="896.1" r="4.2"/>
<circle cx="282.9" cy="883.1" r="4.2"/>
<circle cx="312.3" cy="900.5" r="4.2"/>
<circle cx="266.9" cy="898.5" r="4.2"/>
<circle cx="310.9" cy="895.4" r="4.2"/>
<circle cx="264.1" cy="867.2" r="4.2"/>
<circle cx="309.9" cy="888.0" r="4.2"/>
<circle cx="313.8" cy="898.2" r="4.2"/>
<circle cx="244.2" cy="928.2" r="4.2"/>
<circle cx="345.8" cy="897.4" r="4.2"/>
<circle cx="293.8" cy="914.1" r="4.2"/>
<circle cx="285.1" cy="861.8" r="4.2"/>
<circle cx="325.1" cy="913.7" r="4.2"/>
<circle cx="342.1" cy="846.6" r="4.2"/>
<circle cx="362.8" cy="927.0" r="4.2"/>
<circle cx="246.4" cy="870.7" r="4.2"/>
<circle cx="281.5" cy="874.5" r="4.2"/>
<circle cx="288.0" cy="901.6" r="4.2"/>
<circle cx="316.3" cy="902.5" r="4.2"/>
<circle cx="311.7" cy="892.8" r="4.2"/>
<circle cx="312.5" cy="908.2" r="4.2"/>
<circle cx="338.9" cy="854.8" r="4.2"/>
<circle cx="345.9" cy="840.4" r="4.2"/>
<circle cx="290.6" cy="909.7" r="4.2"/>
<circle cx="316.2" cy="916.7" r="4.2"/>
<circle cx="310.0" cy="890.1" r="4.2"/>
<circle cx="344.6" cy="881.3" r="4.2"/>
<circle cx="276.9" cy="881.8" r="4.2"/>
<circle cx="297.7" cy="912.8" r="4.2"/>
<circle cx="341.9" cy="903.1" r="4.2"/>
<circle cx="280.4" cy="901.0" r="4.2"/>
<circle cx="360.0" cy="907.3" r="4.2"/>
<circle cx="344.0" cy="928.3" r="4.2"/>
<circle cx="298.4" cy="880.1" r="4.2"/>
<circle cx="262.8" cy="907.6" r="4.2"/>
<circle cx="305.1" cy="882.1" r="4.2"/>
<circle cx="288.1" cy="846.6" r="4.2"/>
<circle cx="351.0" cy="879.8" r="4.2"/>
<circle cx="308.7" cy="862.8" r="4.2"/>
<circle cx="268.7" cy="913.9" r="4.2"/>
<circle cx="310.7" cy="876.5" r="4.2"/>
<circle cx="321.1" cy="906.1" r="4.2"/>
<circle cx="282.7" cy="899.0" r="4.2"/>
<circle cx="257.6" cy="873.9" r="4.2"/>
<circle cx="273.1" cy="880.5" r="4.2"/>
<circle cx="344.5" cy="893.4" r="4.2"/>
<circle cx="245.2" cy="862.5" r="4.2"/>
<circle cx="277.4" cy="907.7" r="4.2"/>
<circle cx="319.4" cy="885.2" r="4.2"/>
<circle cx="269.8" cy="908.3" r="4.2"/>
<circle cx="297.4" cy="923.2" r="4.2"/>
<circle cx="278.5" cy="887.2" r="4.2"/>
<circle cx="291.6" cy="913.5" r="4.2"/>
<circle cx="328.5" cy="910.3" r="4.2"/>
<circle cx="251.9" cy="933.8" r="4.2"/>
<circle cx="300.5" cy="912.8" r="4.2"/>
<circle cx="296.6" cy="880.8" r="4.2"/>
<circle cx="325.9" cy="911.9" r="4.2"/>
<circle cx="286.5" cy="892.3" r="4.2"/>
<circle cx="311.7" cy="888.8" r="4.2"/>
<circle cx="281.0" cy="901.3" r="4.2"/>
<circle cx="260.1" cy="908.8" r="4.2"/>
<circle cx="291.4" cy="897.7" r="4.2"/>
<circle cx="316.3" cy="918.3" r="4.2"/>
<circle cx="279.0" cy="859.1" r="4.2"/>
<circle cx="316.8" cy="897.7" r="4.2"/>
<circle cx="295.6" cy="845.3" r="4.2"/>
<circle cx="285.4" cy="897.5" r="4.2"/>
<circle cx="284.4" cy="896.1" r="4.2"/>
<circle cx="279.1" cy="889.0" r="4.2"/>
<circle cx="307.8" cy="912.6" r="4.2"/>
<circle cx="298.8" cy="882.7" r="4.2"/>
<circle cx="260.8" cy="852.0" r="4.2"/>
<circle cx="273.9" cy="897.9" r="4.2"/>
<circle cx="308.5" cy="911.6" r="4.2"/>
<circle cx="321.6" cy="872.0" r="4.2"/>
<circle cx="299.9" cy="904.5" r="4.2"/>
<circle cx="280.4" cy="891.1" r="4.2"/>
<circle cx="325.5" cy="899.9" r="4.2"/>
<circle cx="304.2" cy="921.2" r="4.2"/>
<circle cx="333.1" cy="914.3" r="4.2"/>
<circle cx="327.7" cy="889.3" r="4.2"/>
<circle cx="264.6" cy="844.5" r="4.2"/>
<circle cx="315.5" cy="843.5" r="4.2"/>
<circle cx="283.7" cy="916.3" r="4.2"/>
<circle cx="306.8" cy="930.2" r="4.2"/>
<circle cx="339.9" cy="907.3" r="4.2"/>
<circle cx="354.2" cy="890.0" r="4.2"/>
<circle cx="259.4" cy="926.6" r="4.2"/>
<circle cx="293.4" cy="860.1" r="4.2"/>
<circle cx="297.4" cy="849.1" r="4.2"/>
<circle cx="317.5" cy="933.4" r="4.2"/>
<circle cx="300.3" cy="913.9" r="4.2"/>
<circle cx="314.2" cy="842.3" r="4.2"/>
<circle cx="304.0" cy="895.6" r="4.2"/>
<circle cx="304.6" cy="894.9" r="4.2"/>
<circle cx="312.5" cy="874.9" r="4.2"/>
<circle cx="302.7" cy="924.0" r="4.2"/>
<circle cx="318.0" cy="892.6" r="4.2"/>
<circle cx="326.7" cy="895.1" r="4.2"/>
<circle cx="279.5" cy="899.7" r="4.2"/>
<circle cx="328.8" cy="863.4" r="4.2"/>
<circle cx="277.3" cy="922.7" r="4.2"/>
<circle cx="322.6" cy="926.9" r="4.2"/>
<circle cx="316.4" cy="915.7" r="4.2"/>
<circle cx="303.8" cy="929.9" r="4.2"/>
<circle cx="356.3" cy="842.5" r="4.2"/>
<circle cx="282.0" cy="867.3" r="4.2"/>
<circle cx="269.4" cy="897.9" r="4.2"/>
<circle cx="359.7" cy="898.5" r="4.2"/>
<circle cx="307.0" cy="916.9" r="4.2"/>
<circle cx="300.5" cy="862.2" r="4.2"/>
<circle cx="287.2" cy="875.5" r="4.2"/>
<circle cx="270.5" cy="857.6" r="4.2"/>
<circle cx="304.6" cy="893.7" r="4.2"/>
<circle cx="347.6" cy="861.9" r="4.2"/>
<circle cx="309.6" cy="895.2" r="4.2"/>
<circle cx="364.4" cy="925.6" r="4.2"/>
<circle cx="264.5" cy="880.7" r="4.2"/>
<circle cx="327.2" cy="879.2" r="4.2"/>
<circle cx="301.7" cy="879.2" r="4.2"/>
<circle cx="331.0" cy="897.8" r="4.2"/>
<circle cx="274.1" cy="925.4" r="4.2"/>
<circle cx="320.8" cy="857.3" r="4.2"/>
<circle cx="336.0" cy="855.3" r="4.2"/>
<circle cx="315.1" cy="905.1" r="4.2"/>
<circle cx="292.9" cy="889.2" r="4.2"/>
<circle cx="299.9" cy="844.3" r="4.2"/>
<circle cx="293.9" cy="862.8" r="4.2"/>
<circle cx="327.1" cy="923.6" r="4.2"/>
<circle cx="284.1" cy="887.9" r="4.2"/>
<circle cx="269.3" cy="895.8" r="4.2"/>
<circle cx="332.8" cy="902.1" r="4.2"/>
<circle cx="260.9" cy="906.7" r="4.2"/>
<circle cx="312.5" cy="884.4" r="4.2"/>
<circle cx="309.6" cy="907.1" r="4.2"/>
<circle cx="301.1" cy="866.5" r="4.2"/>
<circle cx="292.7" cy="873.9" r="4.2"/>
<circle cx="285.7" cy="890.3" r="4.2"/>
<circle cx="258.8" cy="901.8" r="4.2"/>
<circle cx="323.9" cy="901.6" r="4.2"/>
<circle cx="287.8" cy="913.7" r="4.2"/>
<circle cx="294.3" cy="899.9" r="4.2"/>
<circle cx="341.7" cy="906.0" r="4.2"/>
<circle cx="289.4" cy="880.9" r="4.2"/>
<circle cx="295.2" cy="896.9" r="4.2"/>
<circle cx="283.4" cy="926.0" r="4.2"/>
<circle cx="306.0" cy="929.2" r="4.2"/>
<circle cx="332.5" cy="903.1" r="4.2"/>
<circle cx="290.9" cy="853.6" r="4.2"/>
<circle cx="322.7" cy="929.2" r="4.2"/>
<circle cx="243.7" cy="845.5" r="4.2"/>
<circle cx="309.7" cy="842.7" r="4.2"/>
<circle cx="343.5" cy="896.4" r="4.2"/>
<circle cx="336.9" cy="906.3" r="4.2"/>
<circle cx="285.7" cy="923.6" r="4.2"/>
<circle cx="273.6" cy="905.7" r="4.2"/>
<circle cx="315.2" cy="922.5" r="4.2"/>
<circle cx="303.3" cy="916.6" r="4.2"/>
<circle cx="300.5" cy="840.0" r="4.2"/>
<circle cx="302.5" cy="903.8" r="4.2"/>
<circle cx="348.4" cy="925.5" r="4.2"/>
<circle cx="302.2" cy="877.1" r="4.2"/>
<circle cx="328.1" cy="922.4" r="4.2"/>
<circle cx="319.7" cy="919.2" r="4.2"/>
<circle cx="282.9" cy="901.1" r="4.2"/>
<circle cx="245.2" cy="885.0" r="4.2"/>
<circle cx="300.6" cy="905.9" r="4.2"/>
<circle cx="350.6" cy="841.7" r="4.2"/>
<circle cx="310.5" cy="906.7" r="4.2"/>
<circle cx="252.1" cy="853.9" r="4.2"/>
<circle cx="293.7" cy="933.5" r="4.2"/>
<circle cx="296.1" cy="919.5" r="4.2"/>
<circle cx="356.0" cy="909.8" r="4.2"/>
<circle cx="281.0" cy="911.6" r="4.2"/>
<circle cx="287.9" cy="889.3" r="4.2"/>
<circle cx="343.5" cy="893.4" r="4.2"/>
<circle cx="282.5" cy="915.2" r="4.2"/>
<circle cx="296.6" cy="896.6" r="4.2"/>
<circle cx="319.4" cy="876.0" r="4.2"/>
<circle cx="257.0" cy="842.6" r="4.2"/>
<circle cx="295.6" cy="912.1" r="4.2"/>
<circle cx="280.3" cy="892.6" r="4.2"/>
<circle cx="277.1" cy="874.1" r="4.2"/>
<circle cx="283.0" cy="889.7" r="4.2"/>
<circle cx="313.1" cy="934.3" r="4.2"/>
<circle cx="283.8" cy="896.4" r="4.2"/>
<circle cx="307.9" cy="919.8" r="4.2"/>
<circle cx="326.7" cy="878.5" r="4.2"/>
<circle cx="287.3" cy="907.9" r="4.2"/>
<circle cx="313.1" cy="929.0" r="4.2"/>
<circle cx="303.4" cy="910.6" r="4.2"/>
<circle cx="270.0" cy="868.1" r="4.2"/>
<circle cx="320.2" cy="885.6" r="4.2"/>
<circle cx="242.5" cy="842.5" r="4.2"/>
<circle cx="323.5" cy="891.7" r="4.2"/>
<circle cx="316.3" cy="891.1" r="4.2"/>
<circle cx="286.0" cy="884.5" r="4.2"/>
<circle cx="303.1" cy="893.5" r="4.2"/>
<circle cx="297.5" cy="892.3" r="4.2"/>
<circle cx="288.0" cy="907.9" r="4.2"/>
<circle cx="360.3" cy="895.3" r="4.2"/>
<circle cx="319.9" cy="863.8" r="4.2"/>
<circle cx="322.8" cy="893.2" r="4.2"/>
<circle cx="310.5" cy="890.0" r="4.2"/>
<circle cx="266.0" cy="849.3" r="4.2"/>
<circle cx="321.7" cy="893.1" r="4.2"/>
<circle cx="302.3" cy="881.6" r="4.2"/>
<circle cx="305.8" cy="894.1" r="4.2"/>
<circle cx="311.5" cy="918.0" r="4.2"/>
<circle cx="247.6" cy="902.8" r="4.2"/>
<circle cx="288.7" cy="919.7" r="4.2"/>
<circle cx="288.4" cy="904.4" r="4.2"/>
<circle cx="331.9" cy="930.2" r="4.2"/>
<circle cx="318.2" cy="906.7" r="4.2"/>
<circle cx="299.8" cy="906.2" r="4.2"/>
<circle cx="330.3" cy="916.6" r="4.2"/>
<circle cx="271.8" cy="888.3" r="4.2"/>
<circle cx="329.7" cy="855.1" r="4.2"/>
<circle cx="353.0" cy="894.2" r="4.2"/>
<circle cx="301.8" cy="880.4" r="4.2"/>
<circle cx="355.3" cy="891.2" r="4.2"/>
<circle cx="265.8" cy="884.2" r="4.2"/>
<circle cx="290.9" cy="911.6" r="4.2"/>
<circle cx="313.2" cy="906.5" r="4.2"/>
<circle cx="296.1" cy="896.1" r="4.2"/>
<circle cx="251.9" cy="886.7" r="4.2"/>
<circle cx="338.2" cy="892.7" r="4.2"/>
<circle cx="304.6" cy="852.7" r="4.2"/>
<circle cx="314.4" cy="898.9" r="4.2"/>
<circle cx="297.5" cy="856.9" r="4.2"/>
<circle cx="279.3" cy="892.2" r="4.2"/>
<circle cx="295.7" cy="900.7" r="4.2"/>
<circle cx="248.3" cy="905.4" r="4.2"/>
<circle cx="289.6" cy="906.3" r="4.2"/>
<circle cx="287.5" cy="850.3" r="4.2"/>
<circle cx="299.7" cy="878.6" r="4.2"/>
<circle cx="279.4" cy="896.6" r="4.2"/>
<circle cx="302.2" cy="925.0" r="4.2"/>
<circle cx="284.1" cy="908.2" r="4.2"/>
<circle cx="313.1" cy="921.6" r="4.2"/>
<circle cx="307.2" cy="914.3" r="4.2"/>
<circle cx="301.2" cy="906.2" r="4.2"/>
<circle cx="350.6" cy="841.5" r="4.2"/>
<circle cx="318.2" cy="891.2" r="4.2"/>
<circle cx="242.8" cy="837.4" r="4.2"/>
<circle cx="302.9" cy="897.3" r="4.2"/>
<circle cx="296.8" cy="853.8" r="4.2"/>
<circle cx="330.7" cy="904.4" r="4.2"/>
<circle cx="294.8" cy="894.2" r="4.2"/>
<circle cx="302.5" cy="896.5" r="4.2"/>
<circle cx="267.1" cy="894.9" r="4.2"/>
<circle cx="332.4" cy="894.1" r="4.2"/>
<circle cx="321.6" cy="909.3" r="4.2"/>
<circle cx="316.3" cy="912.1" r="4.2"/>
<circle cx="283.6" cy="871.2" r="4.2"/>
<circle cx="289.6" cy="915.3" r="4.2"/>
<circle cx="310.3" cy="893.7" r="4.2"/>
<circle cx="318.0" cy="921.9" r="4.2"/>
<circle cx="322.5" cy="911.8" r="4.2"/>
<circle cx="288.3" cy="884.2" r="4.2"/>
<circle cx="303.8" cy="924.2" r="4.2"/>
<circle cx="302.9" cy="877.7" r="4.2"/>
<circle cx="297.3" cy="881.3" r="4.2"/>
<circle cx="300.3" cy="836.6" r="4.2"/>
<circle cx="357.8" cy="849.7" r="4.2"/>
<circle cx="315.2" cy="934.4" r="4.2"/>
<circle cx="296.2" cy="908.5" r="4.2"/>
<circle cx="319.6" cy="901.3" r="4.2"/>
<circle cx="295.5" cy="900.8" r="4.2"/>
<circle cx="303.9" cy="889.8" r="4.2"/>
<circle cx="332.6" cy="866.8" r="4.2"/>
<circle cx="340.3" cy="880.6" r="4.2"/>
<circle cx="342.0" cy="918.1" r="4.2"/>
<circle cx="285.6" cy="909.9" r="4.2"/>
<circle cx="280.7" cy="932.4" r="4.2"/>
<circle cx="291.2" cy="891.2" r="4.2"/>
<circle cx="317.0" cy="920.7" r="4.2"/>
<circle cx="351.3" cy="862.9" r="4.2"/>
<circle cx="332.5" cy="906.6" r="4.2"/>
<circle cx="284.1" cy="873.9" r="4.2"/>
<circle cx="306.4" cy="894.3" r="4.2"/>
<circle cx="314.8" cy="923.9" r="4.2"/>
<circle cx="314.5" cy="918.6" r="4.2"/>
<circle cx="242.3" cy="928.7" r="4.2"/>
<circle cx="304.5" cy="907.1" r="4.2"/>
<circle cx="249.3" cy="891.0" r="4.2"/>
<circle cx="333.8" cy="861.0" r="4.2"/>
<circle cx="339.5" cy="844.3" r="4.2"/>
<circle cx="313.8" cy="932.5" r="4.2"/>
<circle cx="320.0" cy="895.1" r="4.2"/>
<circle cx="301.2" cy="927.1" r="4.2"/>
<circle cx="318.5" cy="916.5" r="4.2"/>
<circle cx="348.4" cy="873.6" r="4.2"/>
<circle cx="290.1" cy="880.5" r="4.2"/>
<circle cx="302.6" cy="869.1" r="4.2"/>
<circle cx="263.2" cy="876.8" r="4.2"/>
<circle cx="318.3" cy="928.5" r="4.2"/>
<circle cx="306.5" cy="855.6" r="4.2"/>
<circle cx="299.1" cy="930.6" r="4.2"/>
<circle cx="300.7" cy="862.8" r="4.2"/>
<circle cx="291.5" cy="773.4" r="4.2"/>
<circle cx="301.2" cy="771.9" r="4.2"/>
<circle cx="293.9" cy="779.8" r="4.2"/>
<circle cx="242.5" cy="781.6" r="4.2"/>
<circle cx="271.4" cy="782.2" r="4.2"/>
<circle cx="272.8" cy="783.9" r="4.2"/>
<circle cx="281.3" cy="783.9" r="4.2"/>
<circle cx="289.5" cy="786.5" r="4.2"/>
<circle cx="290.9" cy="789.5" r="4.2"/>
<circle cx="295.3" cy="791.5" r="4.2"/>
<circle cx="314.9" cy="788.0" r="4.2"/>
<circle cx="316.6" cy="788.0" r="4.2"/>
<circle cx="234.6" cy="795.3" r="4.2"/>
<circle cx="229.6" cy="798.8" r="4.2"/>
<circle cx="237.5" cy="800.5" r="4.2"/>
<circle cx="264.7" cy="795.3" r="4.2"/>
<circle cx="266.1" cy="796.2" r="4.2"/>
<circle cx="274.0" cy="798.2" r="4.2"/>
<circle cx="277.8" cy="793.8" r="4.2"/>
<circle cx="279.3" cy="791.5" r="4.2"/>
<circle cx="298.2" cy="793.8" r="4.2"/>
<circle cx="302.6" cy="798.2" r="4.2"/>
<circle cx="307.0" cy="797.6" r="4.2"/>
<circle cx="312.8" cy="799.7" r="4.2"/>
<circle cx="314.9" cy="801.1" r="4.2"/>
<circle cx="339.1" cy="795.3" r="4.2"/>
<circle cx="334.7" cy="797.6" r="4.2"/>
<circle cx="257.4" cy="801.1" r="4.2"/>
<circle cx="250.1" cy="807.8" r="4.2"/>
<circle cx="260.3" cy="811.4" r="4.2"/>
<circle cx="261.8" cy="812.2" r="4.2"/>
<circle cx="265.5" cy="816.6" r="4.2"/>
<circle cx="291.5" cy="801.7" r="4.2"/>
<circle cx="299.7" cy="805.5" r="4.2"/>
<circle cx="302.6" cy="807.0" r="4.2"/>
<circle cx="308.5" cy="808.4" r="4.2"/>
<circle cx="317.2" cy="807.8" r="4.2"/>
<circle cx="318.7" cy="814.3" r="4.2"/>
<circle cx="315.8" cy="817.2" r="4.2"/>
<circle cx="328.0" cy="806.4" r="4.2"/>
<circle cx="334.7" cy="808.4" r="4.2"/>
<circle cx="324.5" cy="811.4" r="4.2"/>
<circle cx="331.8" cy="818.6" r="4.2"/>
<circle cx="279.3" cy="809.9" r="4.2"/>
<circle cx="276.4" cy="812.8" r="4.2"/>
<circle cx="277.8" cy="816.6" r="4.2"/>
<circle cx="289.5" cy="820.1" r="4.2"/>
<circle cx="273.4" cy="824.5" r="4.2"/>
<circle cx="302.6" cy="815.7" r="4.2"/>
<circle cx="305.5" cy="817.8" r="4.2"/>
<circle cx="309.9" cy="821.6" r="4.2"/>
<circle cx="312.8" cy="825.9" r="4.2"/>
<circle cx="345.0" cy="823.0" r="4.2"/>
<circle cx="239.9" cy="829.5" r="4.2"/>
<circle cx="245.7" cy="828.9" r="4.2"/>
<circle cx="252.4" cy="829.7" r="4.2"/>
<circle cx="254.5" cy="831.8" r="4.2"/>
<circle cx="272.8" cy="828.9" r="4.2"/>
<circle cx="279.3" cy="830.3" r="4.2"/>
<circle cx="288.0" cy="831.2" r="4.2"/>
<circle cx="296.8" cy="827.4" r="4.2"/>
<circle cx="302.6" cy="825.9" r="4.2"/>
<circle cx="333.3" cy="833.2" r="4.2"/>
<circle cx="349.3" cy="833.2" r="4.2"/>
<circle cx="355.2" cy="833.2" r="4.2"/>
<circle cx="190.2" cy="880.4" r="4.2"/>
<circle cx="209.2" cy="922.2" r="4.2"/>
<circle cx="199.9" cy="933.0" r="4.2"/>
</g>
<g fill="#03326a" fill-opacity="0.12">
<circle cx="296.5" cy="731.9" r="4.45"/>
<circle cx="272.8" cy="761.7" r="4.45"/>
<circle cx="303.2" cy="764.6" r="4.45"/>
</g>
<path d="M190.2 845.2 L196.1 846.8 L202.0 848.4 L207.9 850.0 L213.8 851.6 L219.7 853.1 L225.6 854.7 L231.5 856.3 L237.5 857.8 L243.4 859.4 L249.3 860.9 L255.2 862.4 L261.1 863.9 L267.0 865.3 L272.9 866.7 L278.8 868.1 L284.7 869.4 L290.6 870.6 L296.5 871.6 L302.4 872.6 L308.3 873.4 L314.2 874.1 L320.1 874.8 L326.1 875.3 L332.0 875.8 L337.9 876.2 L343.8 876.6 L349.7 876.9 L355.6 877.3 L361.5 877.6 L367.4 877.9 L367.4 895.3 L361.5 893.8 L355.6 892.2 L349.7 890.7 L343.8 889.2 L337.9 887.8 L332.0 886.3 L326.1 884.9 L320.1 883.6 L314.2 882.4 L308.3 881.2 L302.4 880.2 L296.5 879.3 L290.6 878.5 L284.7 877.9 L278.8 877.3 L272.9 876.8 L267.0 876.4 L261.1 876.0 L255.2 875.6 L249.3 875.2 L243.4 874.9 L237.5 874.6 L231.5 874.3 L225.6 874.0 L219.7 873.7 L213.8 873.5 L207.9 873.2 L202.0 872.9 L196.1 872.7 L190.2 872.4Z" fill="#03326a" fill-opacity="0.4"/>
<line x1="190.2" y1="858.8" x2="367.4" y2="886.6" stroke="#03326a" stroke-width="4.2"/>
<path d="M181.40 722.00V944.25H376.60" fill="none" stroke="#000" stroke-width="2.1"/>
<line x1="204.41" y1="944.25" x2="204.41" y2="950.05" stroke="#000" stroke-width="2.1"/>
<text x="204.41" y="969.65" font-size="19.2" text-anchor="middle">-3</text>
<line x1="235.54" y1="944.25" x2="235.54" y2="950.05" stroke="#000" stroke-width="2.1"/>
<text x="235.54" y="969.65" font-size="19.2" text-anchor="middle">-2</text>
<line x1="266.67" y1="944.25" x2="266.67" y2="950.05" stroke="#000" stroke-width="2.1"/>
<text x="266.67" y="969.65" font-size="19.2" text-anchor="middle">-1</text>
<line x1="297.80" y1="944.25" x2="297.80" y2="950.05" stroke="#000" stroke-width="2.1"/>
<text x="297.80" y="969.65" font-size="19.2" text-anchor="middle">0</text>
<line x1="328.93" y1="944.25" x2="328.93" y2="950.05" stroke="#000" stroke-width="2.1"/>
<text x="328.93" y="969.65" font-size="19.2" text-anchor="middle">1</text>
<line x1="360.06" y1="944.25" x2="360.06" y2="950.05" stroke="#000" stroke-width="2.1"/>
<text x="360.06" y="969.65" font-size="19.2" text-anchor="middle">2</text>
<line x1="181.40" y1="737.05" x2="175.70" y2="737.05" stroke="#000" stroke-width="2.1"/>
<text x="171.30" y="744.95" font-size="20.9" text-anchor="end">2.5</text>
<line x1="181.40" y1="780.50" x2="175.70" y2="780.50" stroke="#000" stroke-width="2.1"/>
<text x="171.30" y="788.40" font-size="20.9" text-anchor="end">2.0</text>
<line x1="181.40" y1="823.95" x2="175.70" y2="823.95" stroke="#000" stroke-width="2.1"/>
<text x="171.30" y="831.85" font-size="20.9" text-anchor="end">1.5</text>
<line x1="181.40" y1="867.40" x2="175.70" y2="867.40" stroke="#000" stroke-width="2.1"/>
<text x="171.30" y="875.30" font-size="20.9" text-anchor="end">1.0</text>
<line x1="181.40" y1="910.85" x2="175.70" y2="910.85" stroke="#000" stroke-width="2.1"/>
<text x="171.30" y="918.75" font-size="20.9" text-anchor="end">0.5</text>
<text x="361.20" y="726.70" font-size="18" text-anchor="end"><tspan font-style="italic">r</tspan>(506) = –0.11</text>
<text x="361.20" y="753.00" font-size="18" text-anchor="end"><tspan font-style="italic">p</tspan> = 0.034</text>
<text transform="translate(122.50 885.20) rotate(-90) scale(0.8 1)" x="0" y="0" font-size="29.5" font-style="italic" stroke-width="1.0">σ</text>
<text x="130.50" y="870.40" font-size="21.6" text-anchor="start" transform="rotate(-90 130.50 870.40)" letter-spacing="0.2">other/rich</text>
<g fill="#2e2070" fill-opacity="0.255" stroke="#2e2070" stroke-opacity="0.15" stroke-width="0.8">
<circle cx="569.2" cy="886.3" r="4.2"/>
<circle cx="488.2" cy="904.1" r="4.2"/>
<circle cx="584.4" cy="873.7" r="4.2"/>
<circle cx="603.0" cy="886.3" r="4.2"/>
<circle cx="492.5" cy="869.5" r="4.2"/>
<circle cx="592.9" cy="922.0" r="4.2"/>
<circle cx="535.0" cy="838.3" r="4.2"/>
<circle cx="621.0" cy="891.9" r="4.2"/>
<circle cx="619.0" cy="879.4" r="4.2"/>
<circle cx="586.0" cy="875.8" r="4.2"/>
<circle cx="596.2" cy="901.9" r="4.2"/>
<circle cx="565.6" cy="884.7" r="4.2"/>
<circle cx="518.2" cy="918.7" r="4.2"/>
<circle cx="642.5" cy="882.1" r="4.2"/>
<circle cx="626.4" cy="917.6" r="4.2"/>
<circle cx="605.5" cy="893.2" r="4.2"/>
<circle cx="534.2" cy="916.9" r="4.2"/>
<circle cx="525.0" cy="935.5" r="4.2"/>
<circle cx="637.1" cy="857.1" r="4.2"/>
<circle cx="580.1" cy="912.8" r="4.2"/>
<circle cx="532.4" cy="910.0" r="4.2"/>
<circle cx="598.9" cy="856.8" r="4.2"/>
<circle cx="586.4" cy="861.3" r="4.2"/>
<circle cx="548.9" cy="921.0" r="4.2"/>
<circle cx="532.6" cy="883.0" r="4.2"/>
<circle cx="609.9" cy="891.3" r="4.2"/>
<circle cx="578.0" cy="921.2" r="4.2"/>
<circle cx="609.3" cy="912.0" r="4.2"/>
<circle cx="588.5" cy="894.8" r="4.2"/>
<circle cx="583.5" cy="875.2" r="4.2"/>
<circle cx="589.8" cy="843.4" r="4.2"/>
<circle cx="498.7" cy="923.9" r="4.2"/>
<circle cx="604.3" cy="907.2" r="4.2"/>
<circle cx="590.8" cy="928.5" r="4.2"/>
<circle cx="621.7" cy="915.1" r="4.2"/>
<circle cx="650.9" cy="845.9" r="4.2"/>
<circle cx="634.0" cy="895.3" r="4.2"/>
<circle cx="588.1" cy="845.8" r="4.2"/>
<circle cx="581.7" cy="907.1" r="4.2"/>
<circle cx="587.1" cy="908.2" r="4.2"/>
<circle cx="575.6" cy="898.1" r="4.2"/>
<circle cx="577.7" cy="895.4" r="4.2"/>
<circle cx="551.4" cy="871.3" r="4.2"/>
<circle cx="562.1" cy="839.9" r="4.2"/>
<circle cx="634.1" cy="919.5" r="4.2"/>
<circle cx="630.8" cy="916.8" r="4.2"/>
<circle cx="622.4" cy="901.1" r="4.2"/>
<circle cx="617.3" cy="896.7" r="4.2"/>
<circle cx="594.6" cy="896.5" r="4.2"/>
<circle cx="599.3" cy="879.6" r="4.2"/>
<circle cx="537.8" cy="844.8" r="4.2"/>
<circle cx="650.8" cy="917.4" r="4.2"/>
<circle cx="540.1" cy="902.2" r="4.2"/>
<circle cx="503.3" cy="909.4" r="4.2"/>
<circle cx="567.0" cy="896.9" r="4.2"/>
<circle cx="571.7" cy="891.0" r="4.2"/>
<circle cx="560.2" cy="926.3" r="4.2"/>
<circle cx="595.8" cy="910.0" r="4.2"/>
<circle cx="611.3" cy="885.2" r="4.2"/>
<circle cx="546.3" cy="880.8" r="4.2"/>
<circle cx="601.1" cy="892.9" r="4.2"/>
<circle cx="575.0" cy="863.0" r="4.2"/>
<circle cx="625.9" cy="869.6" r="4.2"/>
<circle cx="550.2" cy="868.6" r="4.2"/>
<circle cx="626.4" cy="896.0" r="4.2"/>
<circle cx="619.5" cy="898.3" r="4.2"/>
<circle cx="644.1" cy="892.3" r="4.2"/>
<circle cx="603.6" cy="911.3" r="4.2"/>
<circle cx="627.8" cy="883.1" r="4.2"/>
<circle cx="563.6" cy="903.8" r="4.2"/>
<circle cx="596.6" cy="885.9" r="4.2"/>
<circle cx="635.1" cy="842.4" r="4.2"/>
<circle cx="578.8" cy="882.0" r="4.2"/>
<circle cx="536.3" cy="897.3" r="4.2"/>
<circle cx="584.7" cy="910.7" r="4.2"/>
<circle cx="609.9" cy="903.7" r="4.2"/>
<circle cx="552.0" cy="888.6" r="4.2"/>
<circle cx="527.9" cy="878.1" r="4.2"/>
<circle cx="551.4" cy="904.9" r="4.2"/>
<circle cx="628.8" cy="895.6" r="4.2"/>
<circle cx="607.7" cy="891.6" r="4.2"/>
<circle cx="594.1" cy="891.9" r="4.2"/>
<circle cx="532.8" cy="838.3" r="4.2"/>
<circle cx="633.5" cy="883.1" r="4.2"/>
<circle cx="618.2" cy="866.7" r="4.2"/>
<circle cx="551.8" cy="904.5" r="4.2"/>
<circle cx="583.6" cy="920.7" r="4.2"/>
<circle cx="596.7" cy="870.1" r="4.2"/>
<circle cx="580.0" cy="893.2" r="4.2"/>
<circle cx="575.9" cy="879.7" r="4.2"/>
<circle cx="593.8" cy="903.5" r="4.2"/>
<circle cx="609.0" cy="905.0" r="4.2"/>
<circle cx="548.6" cy="898.8" r="4.2"/>
<circle cx="638.9" cy="920.8" r="4.2"/>
<circle cx="578.5" cy="871.6" r="4.2"/>
<circle cx="551.0" cy="852.2" r="4.2"/>
<circle cx="566.5" cy="913.3" r="4.2"/>
<circle cx="601.3" cy="893.1" r="4.2"/>
<circle cx="611.1" cy="846.0" r="4.2"/>
<circle cx="597.7" cy="890.1" r="4.2"/>
<circle cx="607.3" cy="897.1" r="4.2"/>
<circle cx="597.5" cy="858.3" r="4.2"/>
<circle cx="557.7" cy="888.1" r="4.2"/>
<circle cx="600.4" cy="890.0" r="4.2"/>
<circle cx="662.0" cy="923.1" r="4.2"/>
<circle cx="547.2" cy="863.7" r="4.2"/>
<circle cx="596.6" cy="886.8" r="4.2"/>
<circle cx="555.7" cy="872.6" r="4.2"/>
<circle cx="660.3" cy="895.6" r="4.2"/>
<circle cx="518.7" cy="879.9" r="4.2"/>
<circle cx="552.7" cy="874.4" r="4.2"/>
<circle cx="542.2" cy="897.2" r="4.2"/>
<circle cx="569.8" cy="913.9" r="4.2"/>
<circle cx="548.4" cy="896.7" r="4.2"/>
<circle cx="595.0" cy="867.9" r="4.2"/>
<circle cx="542.1" cy="842.2" r="4.2"/>
<circle cx="521.7" cy="861.4" r="4.2"/>
<circle cx="584.2" cy="859.0" r="4.2"/>
<circle cx="581.9" cy="867.3" r="4.2"/>
<circle cx="512.7" cy="901.8" r="4.2"/>
<circle cx="610.1" cy="922.9" r="4.2"/>
<circle cx="611.3" cy="889.2" r="4.2"/>
<circle cx="570.3" cy="856.2" r="4.2"/>
<circle cx="625.0" cy="893.4" r="4.2"/>
<circle cx="636.3" cy="919.7" r="4.2"/>
<circle cx="559.1" cy="912.5" r="4.2"/>
<circle cx="568.9" cy="892.5" r="4.2"/>
<circle cx="519.8" cy="893.9" r="4.2"/>
<circle cx="593.0" cy="887.2" r="4.2"/>
<circle cx="534.1" cy="879.3" r="4.2"/>
<circle cx="570.8" cy="919.4" r="4.2"/>
<circle cx="577.6" cy="879.8" r="4.2"/>
<circle cx="599.4" cy="918.1" r="4.2"/>
<circle cx="636.7" cy="918.5" r="4.2"/>
<circle cx="636.0" cy="885.5" r="4.2"/>
<circle cx="534.1" cy="881.4" r="4.2"/>
<circle cx="635.3" cy="897.2" r="4.2"/>
<circle cx="606.8" cy="879.6" r="4.2"/>
<circle cx="597.2" cy="877.7" r="4.2"/>
<circle cx="557.4" cy="858.3" r="4.2"/>
<circle cx="608.6" cy="905.3" r="4.2"/>
<circle cx="561.3" cy="838.4" r="4.2"/>
<circle cx="512.3" cy="863.7" r="4.2"/>
<circle cx="594.1" cy="888.1" r="4.2"/>
<circle cx="540.6" cy="889.3" r="4.2"/>
<circle cx="546.8" cy="877.2" r="4.2"/>
<circle cx="578.9" cy="851.3" r="4.2"/>
<circle cx="607.1" cy="836.6" r="4.2"/>
<circle cx="608.1" cy="854.6" r="4.2"/>
<circle cx="638.7" cy="912.7" r="4.2"/>
<circle cx="549.0" cy="908.6" r="4.2"/>
<circle cx="602.1" cy="908.6" r="4.2"/>
<circle cx="595.2" cy="899.8" r="4.2"/>
<circle cx="641.7" cy="929.3" r="4.2"/>
<circle cx="557.4" cy="871.5" r="4.2"/>
<circle cx="625.8" cy="923.9" r="4.2"/>
<circle cx="529.2" cy="836.4" r="4.2"/>
<circle cx="571.6" cy="869.6" r="4.2"/>
<circle cx="582.2" cy="891.8" r="4.2"/>
<circle cx="645.0" cy="889.7" r="4.2"/>
<circle cx="633.5" cy="918.4" r="4.2"/>
<circle cx="616.0" cy="891.4" r="4.2"/>
<circle cx="542.8" cy="878.1" r="4.2"/>
<circle cx="576.3" cy="857.5" r="4.2"/>
<circle cx="536.3" cy="890.3" r="4.2"/>
<circle cx="632.7" cy="901.1" r="4.2"/>
<circle cx="529.2" cy="892.9" r="4.2"/>
<circle cx="628.8" cy="898.7" r="4.2"/>
<circle cx="562.0" cy="934.3" r="4.2"/>
<circle cx="562.4" cy="846.7" r="4.2"/>
<circle cx="557.1" cy="902.3" r="4.2"/>
<circle cx="589.6" cy="914.0" r="4.2"/>
<circle cx="578.6" cy="837.0" r="4.2"/>
<circle cx="633.4" cy="888.4" r="4.2"/>
<circle cx="662.7" cy="853.1" r="4.2"/>
<circle cx="603.3" cy="896.8" r="4.2"/>
<circle cx="539.9" cy="857.6" r="4.2"/>
<circle cx="531.3" cy="851.6" r="4.2"/>
<circle cx="573.7" cy="895.5" r="4.2"/>
<circle cx="638.6" cy="920.4" r="4.2"/>
<circle cx="591.7" cy="903.6" r="4.2"/>
<circle cx="561.8" cy="882.9" r="4.2"/>
<circle cx="628.6" cy="848.6" r="4.2"/>
<circle cx="533.3" cy="856.3" r="4.2"/>
<circle cx="585.1" cy="878.0" r="4.2"/>
<circle cx="535.4" cy="865.8" r="4.2"/>
<circle cx="636.0" cy="896.5" r="4.2"/>
<circle cx="582.0" cy="886.7" r="4.2"/>
<circle cx="620.3" cy="910.4" r="4.2"/>
<circle cx="535.3" cy="877.2" r="4.2"/>
<circle cx="602.1" cy="885.7" r="4.2"/>
<circle cx="624.1" cy="901.5" r="4.2"/>
<circle cx="650.0" cy="908.8" r="4.2"/>
<circle cx="569.6" cy="895.0" r="4.2"/>
<circle cx="547.5" cy="903.1" r="4.2"/>
<circle cx="606.9" cy="912.0" r="4.2"/>
<circle cx="562.7" cy="891.2" r="4.2"/>
<circle cx="592.2" cy="897.1" r="4.2"/>
<circle cx="581.9" cy="912.1" r="4.2"/>
<circle cx="588.6" cy="909.1" r="4.2"/>
<circle cx="578.6" cy="837.4" r="4.2"/>
<circle cx="509.1" cy="913.2" r="4.2"/>
<circle cx="559.3" cy="929.4" r="4.2"/>
<circle cx="630.6" cy="923.4" r="4.2"/>
<circle cx="630.2" cy="934.4" r="4.2"/>
<circle cx="554.9" cy="891.0" r="4.2"/>
<circle cx="587.0" cy="850.3" r="4.2"/>
<circle cx="516.5" cy="916.9" r="4.2"/>
<circle cx="607.1" cy="918.4" r="4.2"/>
<circle cx="621.6" cy="892.7" r="4.2"/>
<circle cx="534.4" cy="880.3" r="4.2"/>
<circle cx="574.0" cy="845.4" r="4.2"/>
<circle cx="581.0" cy="882.0" r="4.2"/>
<circle cx="589.1" cy="842.7" r="4.2"/>
<circle cx="561.4" cy="906.3" r="4.2"/>
<circle cx="575.9" cy="911.0" r="4.2"/>
<circle cx="564.0" cy="932.8" r="4.2"/>
<circle cx="599.5" cy="883.5" r="4.2"/>
<circle cx="613.4" cy="887.3" r="4.2"/>
<circle cx="608.7" cy="874.3" r="4.2"/>
<circle cx="594.8" cy="898.2" r="4.2"/>
<circle cx="636.4" cy="917.7" r="4.2"/>
<circle cx="590.6" cy="896.1" r="4.2"/>
<circle cx="591.5" cy="882.9" r="4.2"/>
<circle cx="538.4" cy="885.1" r="4.2"/>
<circle cx="569.5" cy="909.3" r="4.2"/>
<circle cx="569.3" cy="872.3" r="4.2"/>
<circle cx="594.2" cy="890.8" r="4.2"/>
<circle cx="595.4" cy="893.9" r="4.2"/>
<circle cx="569.1" cy="862.1" r="4.2"/>
<circle cx="563.6" cy="924.9" r="4.2"/>
<circle cx="593.3" cy="872.5" r="4.2"/>
<circle cx="560.4" cy="856.1" r="4.2"/>
<circle cx="620.8" cy="896.1" r="4.2"/>
<circle cx="592.3" cy="869.2" r="4.2"/>
<circle cx="520.8" cy="866.2" r="4.2"/>
<circle cx="605.6" cy="859.6" r="4.2"/>
<circle cx="544.7" cy="893.6" r="4.2"/>
<circle cx="509.4" cy="895.4" r="4.2"/>
<circle cx="571.0" cy="870.4" r="4.2"/>
<circle cx="562.1" cy="854.0" r="4.2"/>
<circle cx="605.4" cy="884.7" r="4.2"/>
<circle cx="606.2" cy="854.2" r="4.2"/>
<circle cx="561.9" cy="888.7" r="4.2"/>
<circle cx="626.5" cy="900.3" r="4.2"/>
<circle cx="631.1" cy="900.6" r="4.2"/>
<circle cx="522.0" cy="882.7" r="4.2"/>
<circle cx="491.7" cy="866.6" r="4.2"/>
<circle cx="635.4" cy="848.9" r="4.2"/>
<circle cx="626.2" cy="913.5" r="4.2"/>
<circle cx="564.7" cy="898.5" r="4.2"/>
<circle cx="592.0" cy="929.5" r="4.2"/>
<circle cx="608.2" cy="904.7" r="4.2"/>
<circle cx="593.2" cy="890.8" r="4.2"/>
<circle cx="557.1" cy="857.4" r="4.2"/>
<circle cx="606.3" cy="897.1" r="4.2"/>
<circle cx="577.1" cy="866.4" r="4.2"/>
<circle cx="569.0" cy="905.8" r="4.2"/>
<circle cx="611.6" cy="919.2" r="4.2"/>
<circle cx="642.1" cy="878.8" r="4.2"/>
<circle cx="590.5" cy="894.9" r="4.2"/>
<circle cx="515.2" cy="871.8" r="4.2"/>
<circle cx="617.6" cy="896.3" r="4.2"/>
<circle cx="589.3" cy="882.6" r="4.2"/>
<circle cx="567.6" cy="875.8" r="4.2"/>
<circle cx="622.0" cy="896.3" r="4.2"/>
<circle cx="544.9" cy="850.7" r="4.2"/>
<circle cx="542.8" cy="852.8" r="4.2"/>
<circle cx="513.5" cy="874.9" r="4.2"/>
<circle cx="502.0" cy="879.0" r="4.2"/>
<circle cx="509.5" cy="893.9" r="4.2"/>
<circle cx="609.5" cy="876.1" r="4.2"/>
<circle cx="615.6" cy="929.4" r="4.2"/>
<circle cx="580.9" cy="853.8" r="4.2"/>
<circle cx="598.3" cy="858.4" r="4.2"/>
<circle cx="580.5" cy="902.2" r="4.2"/>
<circle cx="576.5" cy="911.8" r="4.2"/>
<circle cx="628.6" cy="850.0" r="4.2"/>
<circle cx="582.9" cy="926.6" r="4.2"/>
<circle cx="544.1" cy="924.4" r="4.2"/>
<circle cx="643.6" cy="925.8" r="4.2"/>
<circle cx="599.2" cy="841.5" r="4.2"/>
<circle cx="551.4" cy="903.3" r="4.2"/>
<circle cx="620.0" cy="922.8" r="4.2"/>
<circle cx="603.4" cy="893.1" r="4.2"/>
<circle cx="662.1" cy="859.4" r="4.2"/>
<circle cx="592.6" cy="895.1" r="4.2"/>
<circle cx="595.9" cy="881.7" r="4.2"/>
<circle cx="493.5" cy="895.5" r="4.2"/>
<circle cx="520.9" cy="859.0" r="4.2"/>
<circle cx="599.5" cy="893.8" r="4.2"/>
<circle cx="580.3" cy="906.5" r="4.2"/>
<circle cx="629.7" cy="906.2" r="4.2"/>
<circle cx="641.6" cy="919.3" r="4.2"/>
<circle cx="565.9" cy="890.8" r="4.2"/>
<circle cx="649.8" cy="864.9" r="4.2"/>
<circle cx="630.1" cy="911.9" r="4.2"/>
<circle cx="608.6" cy="903.2" r="4.2"/>
<circle cx="596.7" cy="843.8" r="4.2"/>
<circle cx="581.1" cy="931.8" r="4.2"/>
<circle cx="611.7" cy="916.9" r="4.2"/>
<circle cx="595.3" cy="873.6" r="4.2"/>
<circle cx="603.5" cy="882.8" r="4.2"/>
<circle cx="551.1" cy="857.3" r="4.2"/>
<circle cx="572.4" cy="909.2" r="4.2"/>
<circle cx="578.7" cy="878.6" r="4.2"/>
<circle cx="631.8" cy="925.3" r="4.2"/>
<circle cx="585.9" cy="897.3" r="4.2"/>
<circle cx="605.5" cy="891.6" r="4.2"/>
<circle cx="626.7" cy="902.0" r="4.2"/>
<circle cx="519.6" cy="881.5" r="4.2"/>
<circle cx="650.0" cy="875.9" r="4.2"/>
<circle cx="569.4" cy="864.0" r="4.2"/>
<circle cx="581.3" cy="885.0" r="4.2"/>
<circle cx="618.2" cy="880.5" r="4.2"/>
<circle cx="510.2" cy="887.3" r="4.2"/>
<circle cx="591.4" cy="896.5" r="4.2"/>
<circle cx="625.0" cy="866.9" r="4.2"/>
<circle cx="614.9" cy="909.6" r="4.2"/>
<circle cx="525.6" cy="840.6" r="4.2"/>
<circle cx="619.4" cy="899.1" r="4.2"/>
<circle cx="534.8" cy="840.9" r="4.2"/>
<circle cx="528.6" cy="897.5" r="4.2"/>
<circle cx="611.5" cy="894.9" r="4.2"/>
<circle cx="545.2" cy="890.6" r="4.2"/>
<circle cx="625.1" cy="908.9" r="4.2"/>
<circle cx="653.5" cy="838.4" r="4.2"/>
<circle cx="627.7" cy="882.8" r="4.2"/>
<circle cx="617.3" cy="885.1" r="4.2"/>
<circle cx="569.9" cy="906.1" r="4.2"/>
<circle cx="626.5" cy="865.5" r="4.2"/>
<circle cx="534.3" cy="877.6" r="4.2"/>
<circle cx="546.9" cy="868.0" r="4.2"/>
<circle cx="579.7" cy="897.3" r="4.2"/>
<circle cx="633.8" cy="934.6" r="4.2"/>
<circle cx="578.3" cy="923.6" r="4.2"/>
<circle cx="650.9" cy="900.4" r="4.2"/>
<circle cx="588.9" cy="915.1" r="4.2"/>
<circle cx="565.6" cy="891.7" r="4.2"/>
<circle cx="518.2" cy="860.1" r="4.2"/>
<circle cx="605.5" cy="846.9" r="4.2"/>
<circle cx="526.0" cy="886.5" r="4.2"/>
<circle cx="552.2" cy="901.5" r="4.2"/>
<circle cx="576.7" cy="912.7" r="4.2"/>
<circle cx="605.6" cy="837.4" r="4.2"/>
<circle cx="638.0" cy="888.2" r="4.2"/>
<circle cx="651.8" cy="906.3" r="4.2"/>
<circle cx="601.4" cy="905.0" r="4.2"/>
<circle cx="599.7" cy="907.9" r="4.2"/>
<circle cx="618.5" cy="911.8" r="4.2"/>
<circle cx="572.6" cy="888.1" r="4.2"/>
<circle cx="616.1" cy="909.2" r="4.2"/>
<circle cx="610.5" cy="911.8" r="4.2"/>
<circle cx="611.8" cy="889.9" r="4.2"/>
<circle cx="594.0" cy="877.7" r="4.2"/>
<circle cx="616.4" cy="880.9" r="4.2"/>
<circle cx="588.9" cy="903.6" r="4.2"/>
<circle cx="550.3" cy="896.0" r="4.2"/>
<circle cx="581.9" cy="914.3" r="4.2"/>
<circle cx="582.3" cy="888.5" r="4.2"/>
<circle cx="580.8" cy="875.6" r="4.2"/>
<circle cx="599.2" cy="897.6" r="4.2"/>
<circle cx="570.8" cy="838.4" r="4.2"/>
<circle cx="641.0" cy="851.5" r="4.2"/>
<circle cx="580.6" cy="892.8" r="4.2"/>
<circle cx="603.5" cy="852.2" r="4.2"/>
<circle cx="560.8" cy="892.5" r="4.2"/>
<circle cx="576.0" cy="883.7" r="4.2"/>
<circle cx="608.2" cy="909.3" r="4.2"/>
<circle cx="581.5" cy="866.1" r="4.2"/>
<circle cx="655.1" cy="850.7" r="4.2"/>
<circle cx="597.8" cy="929.0" r="4.2"/>
<circle cx="589.6" cy="920.1" r="4.2"/>
<circle cx="604.4" cy="868.0" r="4.2"/>
<circle cx="596.8" cy="888.5" r="4.2"/>
<circle cx="588.1" cy="909.9" r="4.2"/>
<circle cx="601.6" cy="881.5" r="4.2"/>
<circle cx="585.9" cy="896.8" r="4.2"/>
<circle cx="599.0" cy="901.3" r="4.2"/>
<circle cx="569.0" cy="919.2" r="4.2"/>
<circle cx="527.8" cy="843.5" r="4.2"/>
<circle cx="524.5" cy="904.4" r="4.2"/>
<circle cx="635.5" cy="910.1" r="4.2"/>
<circle cx="518.4" cy="885.7" r="4.2"/>
<circle cx="618.1" cy="912.9" r="4.2"/>
<circle cx="600.6" cy="893.6" r="4.2"/>
<circle cx="593.0" cy="882.1" r="4.2"/>
<circle cx="534.7" cy="912.6" r="4.2"/>
<circle cx="628.5" cy="914.7" r="4.2"/>
<circle cx="496.4" cy="872.7" r="4.2"/>
<circle cx="593.1" cy="921.2" r="4.2"/>
<circle cx="575.7" cy="879.7" r="4.2"/>
<circle cx="595.9" cy="930.4" r="4.2"/>
<circle cx="568.9" cy="896.2" r="4.2"/>
<circle cx="589.7" cy="901.4" r="4.2"/>
<circle cx="536.9" cy="892.8" r="4.2"/>
<circle cx="562.3" cy="934.9" r="4.2"/>
<circle cx="590.0" cy="898.4" r="4.2"/>
<circle cx="629.0" cy="920.8" r="4.2"/>
<circle cx="595.8" cy="904.1" r="4.2"/>
<circle cx="540.8" cy="916.6" r="4.2"/>
<circle cx="574.7" cy="921.3" r="4.2"/>
<circle cx="581.4" cy="858.8" r="4.2"/>
<circle cx="607.0" cy="868.3" r="4.2"/>
<circle cx="636.4" cy="911.2" r="4.2"/>
<circle cx="629.2" cy="919.8" r="4.2"/>
<circle cx="605.6" cy="891.7" r="4.2"/>
<circle cx="492.3" cy="836.1" r="4.2"/>
<circle cx="609.1" cy="885.3" r="4.2"/>
<circle cx="591.3" cy="869.2" r="4.2"/>
<circle cx="624.5" cy="895.0" r="4.2"/>
<circle cx="615.8" cy="921.0" r="4.2"/>
<circle cx="522.3" cy="906.7" r="4.2"/>
<circle cx="593.0" cy="894.2" r="4.2"/>
<circle cx="612.6" cy="927.9" r="4.2"/>
<circle cx="601.5" cy="908.0" r="4.2"/>
<circle cx="640.1" cy="906.1" r="4.2"/>
<circle cx="562.2" cy="916.5" r="4.2"/>
<circle cx="586.9" cy="882.8" r="4.2"/>
<circle cx="577.8" cy="864.4" r="4.2"/>
<circle cx="522.9" cy="866.6" r="4.2"/>
<circle cx="655.8" cy="863.1" r="4.2"/>
<circle cx="608.3" cy="845.5" r="4.2"/>
<circle cx="617.2" cy="915.5" r="4.2"/>
<circle cx="598.5" cy="923.6" r="4.2"/>
<circle cx="583.9" cy="860.3" r="4.2"/>
<circle cx="652.5" cy="876.7" r="4.2"/>
<circle cx="567.7" cy="866.3" r="4.2"/>
<circle cx="598.4" cy="921.3" r="4.2"/>
<circle cx="637.1" cy="905.7" r="4.2"/>
<circle cx="594.1" cy="875.4" r="4.2"/>
<circle cx="591.7" cy="900.7" r="4.2"/>
<circle cx="618.7" cy="908.5" r="4.2"/>
<circle cx="606.2" cy="900.7" r="4.2"/>
<circle cx="547.4" cy="892.0" r="4.2"/>
<circle cx="582.4" cy="840.6" r="4.2"/>
<circle cx="594.8" cy="892.9" r="4.2"/>
<circle cx="614.6" cy="874.7" r="4.2"/>
<circle cx="573.1" cy="901.1" r="4.2"/>
<circle cx="508.6" cy="907.6" r="4.2"/>
<circle cx="553.0" cy="771.9" r="4.2"/>
<circle cx="595.3" cy="774.3" r="4.2"/>
<circle cx="499.0" cy="773.4" r="4.2"/>
<circle cx="488.8" cy="781.6" r="4.2"/>
<circle cx="490.8" cy="788.0" r="4.2"/>
<circle cx="603.2" cy="779.8" r="4.2"/>
<circle cx="619.0" cy="783.6" r="4.2"/>
<circle cx="628.3" cy="781.6" r="4.2"/>
<circle cx="542.8" cy="782.7" r="4.2"/>
<circle cx="535.5" cy="784.5" r="4.2"/>
<circle cx="532.6" cy="787.4" r="4.2"/>
<circle cx="529.6" cy="788.9" r="4.2"/>
<circle cx="536.4" cy="790.3" r="4.2"/>
<circle cx="575.2" cy="783.6" r="4.2"/>
<circle cx="562.3" cy="788.0" r="4.2"/>
<circle cx="567.6" cy="790.3" r="4.2"/>
<circle cx="570.5" cy="790.3" r="4.2"/>
<circle cx="560.3" cy="793.2" r="4.2"/>
<circle cx="552.4" cy="795.3" r="4.2"/>
<circle cx="578.7" cy="795.3" r="4.2"/>
<circle cx="651.1" cy="788.9" r="4.2"/>
<circle cx="596.2" cy="795.3" r="4.2"/>
<circle cx="599.7" cy="796.8" r="4.2"/>
<circle cx="602.6" cy="795.3" r="4.2"/>
<circle cx="589.5" cy="800.5" r="4.2"/>
<circle cx="586.6" cy="801.1" r="4.2"/>
<circle cx="616.4" cy="796.8" r="4.2"/>
<circle cx="630.4" cy="799.7" r="4.2"/>
<circle cx="487.3" cy="798.2" r="4.2"/>
<circle cx="491.1" cy="806.4" r="4.2"/>
<circle cx="497.5" cy="811.4" r="4.2"/>
<circle cx="518.5" cy="801.1" r="4.2"/>
<circle cx="512.1" cy="807.8" r="4.2"/>
<circle cx="519.4" cy="810.8" r="4.2"/>
<circle cx="515.6" cy="812.2" r="4.2"/>
<circle cx="546.6" cy="802.0" r="4.2"/>
<circle cx="557.4" cy="805.5" r="4.2"/>
<circle cx="555.3" cy="811.4" r="4.2"/>
<circle cx="557.4" cy="814.3" r="4.2"/>
<circle cx="542.8" cy="817.2" r="4.2"/>
<circle cx="576.4" cy="804.1" r="4.2"/>
<circle cx="580.7" cy="802.6" r="4.2"/>
<circle cx="573.4" cy="807.8" r="4.2"/>
<circle cx="589.5" cy="808.4" r="4.2"/>
<circle cx="592.4" cy="812.8" r="4.2"/>
<circle cx="590.9" cy="815.7" r="4.2"/>
<circle cx="583.6" cy="814.9" r="4.2"/>
<circle cx="579.3" cy="817.2" r="4.2"/>
<circle cx="599.1" cy="817.2" r="4.2"/>
<circle cx="631.8" cy="806.4" r="4.2"/>
<circle cx="627.4" cy="808.4" r="4.2"/>
<circle cx="624.5" cy="815.7" r="4.2"/>
<circle cx="621.6" cy="817.2" r="4.2"/>
<circle cx="634.7" cy="820.7" r="4.2"/>
<circle cx="609.9" cy="821.6" r="4.2"/>
<circle cx="614.3" cy="825.9" r="4.2"/>
<circle cx="604.1" cy="827.4" r="4.2"/>
<circle cx="623.1" cy="828.9" r="4.2"/>
<circle cx="558.8" cy="825.4" r="4.2"/>
<circle cx="573.4" cy="823.0" r="4.2"/>
<circle cx="580.7" cy="826.8" r="4.2"/>
<circle cx="588.0" cy="823.0" r="4.2"/>
<circle cx="592.4" cy="821.6" r="4.2"/>
<circle cx="530.2" cy="828.9" r="4.2"/>
<circle cx="532.6" cy="830.9" r="4.2"/>
<circle cx="567.6" cy="831.8" r="4.2"/>
<circle cx="570.5" cy="833.2" r="4.2"/>
<circle cx="592.4" cy="831.8" r="4.2"/>
</g>
<g fill="#2e2070" fill-opacity="0.12">
<circle cx="589.5" cy="732.5" r="4.45"/>
<circle cx="574.0" cy="764.1" r="4.45"/>
<circle cx="591.2" cy="761.7" r="4.45"/>
</g>
<path d="M487.9 846.1 L493.8 847.7 L499.7 849.4 L505.6 851.0 L511.5 852.6 L517.5 854.3 L523.4 855.9 L529.3 857.5 L535.2 859.1 L541.1 860.7 L547.0 862.2 L552.9 863.7 L558.8 865.2 L564.7 866.7 L570.6 868.1 L576.5 869.5 L582.5 870.7 L588.4 872.0 L594.3 873.1 L600.2 874.2 L606.1 875.2 L612.0 876.1 L617.9 877.0 L623.8 877.9 L629.7 878.7 L635.7 879.4 L641.6 880.2 L647.5 880.9 L653.4 881.6 L659.3 882.3 L665.2 883.0 L665.2 899.0 L659.3 897.3 L653.4 895.7 L647.5 894.1 L641.6 892.6 L635.7 891.0 L629.7 889.5 L623.8 888.0 L617.9 886.5 L612.0 885.1 L606.1 883.7 L600.2 882.4 L594.3 881.1 L588.4 880.0 L582.5 878.9 L576.5 877.8 L570.6 876.9 L564.7 876.0 L558.8 875.1 L552.9 874.3 L547.0 873.5 L541.1 872.8 L535.2 872.0 L529.3 871.3 L523.4 870.6 L517.5 869.9 L511.5 869.2 L505.6 868.5 L499.7 867.9 L493.8 867.2 L487.9 866.5Z" fill="#2e2070" fill-opacity="0.4"/>
<line x1="487.9" y1="856.3" x2="665.2" y2="891.0" stroke="#2e2070" stroke-width="4.2"/>
<path d="M479.40 722.00V944.25H674.70" fill="none" stroke="#000" stroke-width="2.1"/>
<line x1="512.44" y1="944.25" x2="512.44" y2="950.05" stroke="#000" stroke-width="2.1"/>
<text x="512.44" y="969.65" font-size="19.2" text-anchor="middle">-2</text>
<line x1="549.52" y1="944.25" x2="549.52" y2="950.05" stroke="#000" stroke-width="2.1"/>
<text x="549.52" y="969.65" font-size="19.2" text-anchor="middle">-1</text>
<line x1="586.60" y1="944.25" x2="586.60" y2="950.05" stroke="#000" stroke-width="2.1"/>
<text x="586.60" y="969.65" font-size="19.2" text-anchor="middle">0</text>
<line x1="623.68" y1="944.25" x2="623.68" y2="950.05" stroke="#000" stroke-width="2.1"/>
<text x="623.68" y="969.65" font-size="19.2" text-anchor="middle">1</text>
<line x1="660.76" y1="944.25" x2="660.76" y2="950.05" stroke="#000" stroke-width="2.1"/>
<text x="660.76" y="969.65" font-size="19.2" text-anchor="middle">2</text>
<line x1="479.40" y1="737.05" x2="473.70" y2="737.05" stroke="#000" stroke-width="2.1"/>
<text x="469.30" y="744.95" font-size="20.9" text-anchor="end">2.5</text>
<line x1="479.40" y1="780.50" x2="473.70" y2="780.50" stroke="#000" stroke-width="2.1"/>
<text x="469.30" y="788.40" font-size="20.9" text-anchor="end">2.0</text>
<line x1="479.40" y1="823.95" x2="473.70" y2="823.95" stroke="#000" stroke-width="2.1"/>
<text x="469.30" y="831.85" font-size="20.9" text-anchor="end">1.5</text>
<line x1="479.40" y1="867.40" x2="473.70" y2="867.40" stroke="#000" stroke-width="2.1"/>
<text x="469.30" y="875.30" font-size="20.9" text-anchor="end">1.0</text>
<line x1="479.40" y1="910.85" x2="473.70" y2="910.85" stroke="#000" stroke-width="2.1"/>
<text x="469.30" y="918.75" font-size="20.9" text-anchor="end">0.5</text>
<text x="658.40" y="726.70" font-size="18" text-anchor="end"><tspan font-style="italic">r</tspan>(506) = –0.18</text>
<text x="658.40" y="753.00" font-size="18" text-anchor="end"><tspan font-style="italic">p</tspan> &lt; 0.001</text>
<text transform="translate(420.00 885.20) rotate(-90) scale(0.8 1)" x="0" y="0" font-size="29.5" font-style="italic" stroke-width="1.0">σ</text>
<text x="428.00" y="870.40" font-size="21.6" text-anchor="start" transform="rotate(-90 428.00 870.40)" letter-spacing="0.2">other/rich</text>
<text x="74.10" y="527.80" font-size="18.6" text-anchor="start" transform="rotate(-90 74.10 527.80)" font-style="italic">Less likely</text>
<text x="72.05" y="440.80" font-size="28" text-anchor="start" transform="rotate(-90 72.05 440.80)">→</text>
<text x="74.10" y="658.60" font-size="18.6" text-anchor="start" transform="rotate(-90 74.10 658.60)" font-style="italic" textLength="86">More likely</text>
<text x="72.05" y="687.90" font-size="28" text-anchor="start" transform="rotate(-90 72.05 687.90)">←</text>
<text x="100.00" y="472.40" font-size="18.6" text-anchor="middle" transform="rotate(-90 100.00 472.40)" font-style="italic">to act</text>
<text x="100.00" y="626.90" font-size="18.6" text-anchor="middle" transform="rotate(-90 100.00 626.90)" font-style="italic">to act</text>
<text x="74.10" y="808.20" font-size="18.6" text-anchor="start" transform="rotate(-90 74.10 808.20)" font-style="italic">Less likely</text>
<text x="72.05" y="721.40" font-size="28" text-anchor="start" transform="rotate(-90 72.05 721.40)">→</text>
<text x="74.10" y="944.20" font-size="18.6" text-anchor="start" transform="rotate(-90 74.10 944.20)" font-style="italic" textLength="86">More likely</text>
<text x="72.05" y="973.20" font-size="28" text-anchor="start" transform="rotate(-90 72.05 973.20)">←</text>
<text x="100.00" y="753.40" font-size="18.6" text-anchor="middle" transform="rotate(-90 100.00 753.40)" font-style="italic">to act</text>
<text x="100.00" y="912.60" font-size="18.6" text-anchor="middle" transform="rotate(-90 100.00 912.60)" font-style="italic">to act</text>
<text x="279.40" y="995.90" font-size="21.7" text-anchor="middle" letter-spacing="-0.1">Empathy and</text>
<text x="278.70" y="1019.80" font-size="21.7" text-anchor="middle" letter-spacing="-0.34">emotional motivation</text>
<text x="576.70" y="1008.10" font-size="21.7" text-anchor="middle" letter-spacing="-0.19">Utilitarianism</text>
</svg>
</body>
</html>
